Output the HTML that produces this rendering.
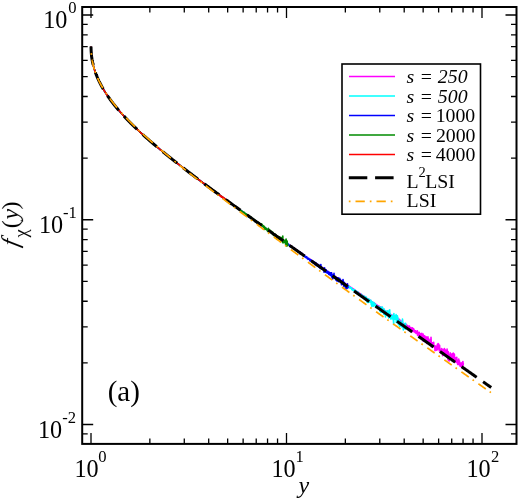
<!DOCTYPE html>
<html><head><meta charset="utf-8"><title>f_chi(y)</title>
<style>
html,body{margin:0;padding:0;background:#fff;}
body{width:519px;height:500px;overflow:hidden;}
svg{display:block;}
text{font-family:"Liberation Serif",serif;fill:#000;}
.tl{font-size:24.2px;}
.sup{font-size:16.6px;}
.lg{font-size:19.8px;}
.it{font-style:italic;}
</style></head><body>
<svg width="519" height="500" viewBox="0 0 519 500">
<rect x="0" y="0" width="519" height="500" fill="#fff"/>
<g id="curves">
<path d="M91.02,46.62 L91.02,46.65 L91.02,46.75 L91.02,46.92 L91.03,47.16 L91.03,47.44 L91.04,47.77 L91.05,48.12 L91.06,48.50 L91.07,48.88 L91.08,49.28 L91.10,49.68 L91.12,50.08 L91.13,50.48 L91.15,50.89 L91.18,51.30 L91.20,51.71 L91.23,52.11 L91.25,52.52 L91.28,52.92 L91.32,53.33 L91.35,53.73 L91.38,54.14 L91.42,54.54 L91.46,54.94 L91.50,55.34 L91.55,55.74 L91.59,56.14 L91.64,56.54 L91.69,56.93 L91.74,57.33 L91.79,57.73 L91.85,58.12 L91.91,58.52 L91.97,58.91 L92.03,59.31 L92.10,59.70 L92.16,60.10 L92.23,60.49 L92.30,60.89 L92.38,61.28 L92.45,61.67 L92.53,62.07 L92.61,62.46 L92.69,62.85 L92.78,63.25 L92.87,63.64 L92.96,64.04 L93.05,64.43 L93.14,64.82 L93.24,65.22 L93.34,65.61 L93.44,66.01 L93.54,66.40 L93.65,66.80 L93.76,67.19 L93.87,67.59 L93.98,67.98 L94.09,68.38 L94.21,68.77 L94.33,69.17 L94.45,69.57 L94.58,69.96 L94.71,70.36 L94.84,70.76 L94.97,71.16 L95.10,71.56 L95.24,71.96 L95.38,72.36 L95.52,72.76 L95.67,73.16 L95.82,73.56 L95.97,73.96 L96.12,74.36 L96.27,74.76 L96.43,75.16 L96.59,75.57 L96.75,75.97 L96.92,76.38 L97.09,76.78 L97.26,77.18 L97.43,77.59 L97.61,78.00 L97.78,78.40 L97.96,78.81 L98.15,79.22 L98.33,79.62 L98.52,80.03 L98.71,80.44 L98.91,80.85 L99.10,81.26 L99.30,81.67 L99.50,82.08 L99.71,82.49 L99.91,82.91 L100.12,83.32 L100.34,83.73 L100.55,84.15 L100.77,84.56 L100.99,84.97 L101.21,85.39 L101.44,85.81 L101.66,86.22 L101.90,86.64 L102.13,87.06 L102.37,87.47 L102.60,87.89 L102.85,88.31 L103.09,88.73 L103.34,89.15 L103.59,89.57 L103.84,89.99 L104.10,90.42 L104.36,90.84 L104.62,91.26 L104.88,91.68 L105.15,92.11 L105.42,92.53 L105.69,92.96 L105.96,93.38 L106.24,93.81 L106.52,94.24 L106.80,94.67 L107.09,95.09 L107.38,95.52 L107.67,95.95 L107.97,96.38 L108.26,96.81 L108.56,97.24 L108.87,97.67 L109.17,98.11 L109.48,98.54 L109.79,98.97 L110.11,99.41 L110.42,99.84 L110.74,100.27 L111.07,100.71 L111.39,101.15 L111.72,101.58 L112.05,102.02 L112.39,102.46 L112.72,102.90 L113.06,103.34 L113.41,103.78 L113.75,104.22 L114.10,104.66 L114.45,105.10 L114.81,105.54 L115.16,105.99 L115.52,106.43 L115.89,106.87 L116.25,107.32 L116.62,107.76 L116.99,108.21 L117.37,108.66 L117.75,109.10 L118.13,109.55 L118.51,110.00 L118.90,110.45 L119.29,110.90 L119.68,111.35 L120.08,111.80 L120.48,112.26 L120.88,112.71 L121.28,113.16 L121.69,113.62 L122.10,114.07 L122.51,114.53 L122.93,114.98 L123.35,115.44 L123.77,115.90 L124.20,116.36 L124.62,116.82 L125.06,117.28 L125.49,117.74 L125.93,118.20 L126.37,118.66 L126.81,119.13 L127.26,119.59 L127.71,120.05 L128.16,120.52 L128.61,120.99 L129.07,121.45 L129.53,121.92 L130.00,122.39 L130.47,122.86 L130.94,123.33 L131.41,123.80 L131.89,124.27 L132.37,124.75 L132.85,125.22 L133.34,125.69 L133.83,126.17 L134.32,126.65 L134.81,127.12 L135.31,127.60 L135.81,128.08 L136.32,128.56 L136.82,129.04 L137.33,129.52 L137.85,130.01 L138.36,130.49 L138.88,130.98 L139.41,131.46 L139.93,131.95 L140.46,132.43 L140.99,132.92 L141.53,133.41 L142.07,133.90 L142.61,134.40 L143.15,134.89 L143.70,135.38 L144.25,135.88 L144.81,136.37 L145.36,136.87 L145.92,137.37 L146.49,137.87 L147.05,138.37 L147.62,138.87 L148.20,139.37 L148.77,139.87 L149.35,140.38 L149.93,140.88 L150.52,141.39 L151.11,141.90 L151.70,142.40 L152.29,142.91 L152.89,143.43 L153.49,143.94 L154.10,144.45 L154.70,144.97 L155.32,145.48 L155.93,146.00 L156.55,146.52 L157.17,147.04 L157.79,147.56 L158.42,148.08 L159.05,148.61 L159.68,149.13 L160.32,149.66 L160.96,150.18 L161.60,150.71 L162.24,151.24 L162.89,151.77 L163.55,152.31 L164.20,152.84 L164.86,153.38 L165.52,153.91 L166.19,154.45 L166.86,154.99 L167.53,155.53 L168.20,156.07 L168.88,156.62 L169.56,157.16 L170.25,157.71 L170.93,158.26 L171.63,158.80 L172.32,159.36 L173.02,159.91 L173.72,160.46 L174.42,161.02 L175.13,161.57 L175.84,162.13 L176.55,162.69 L177.27,163.25 L177.99,163.82 L178.72,164.38 L179.44,164.95 L180.17,165.51 L180.91,166.08 L181.64,166.65 L182.38,167.23 L183.13,167.80 L183.87,168.37 L184.62,168.95 L185.38,169.53 L186.13,170.11 L186.89,170.69 L187.66,171.28 L188.42,171.86 L189.19,172.45 L189.96,173.04 L190.74,173.63 L191.52,174.22 L192.30,174.81 L193.09,175.41 L193.88,176.01 L194.67,176.60 L195.47,177.20 L196.27,177.81 L197.07,178.41 L197.88,179.02 L198.69,179.62 L199.50,180.23 L200.32,180.84 L201.13,181.46 L201.96,182.07 L202.78,182.69 L203.61,183.31 L204.45,183.93 L205.28,184.55 L206.12,185.17 L206.97,185.80 L207.81,186.43 L208.66,187.06 L209.51,187.69 L210.37,188.32 L211.23,188.96 L212.09,189.59 L212.96,190.23 L213.83,190.87 L214.70,191.52 L215.58,192.16 L216.46,192.81 L217.34,193.46 L218.23,194.11 L219.12,194.76 L220.01,195.41 L220.91,196.07 L221.81,196.73 L222.71,197.39 L223.62,198.05 L224.53,198.72 L225.45,199.38 L226.36,200.05 L227.28,200.72 L228.21,201.39 L229.14,202.07 L230.07,202.74 L231.00,203.42 L231.94,204.10 L232.88,204.79 L233.82,205.47 L234.77,206.16 L235.72,206.85 L236.68,207.54 L237.64,208.23 L238.60,208.92 L239.56,209.62 L240.53,210.32 L241.50,211.02 L242.48,211.72 L243.46,212.42 L244.44,213.13 L245.43,213.83 L246.42,214.54 L247.41,215.25 L248.40,215.97 L249.40,216.68 L250.41,217.40 L251.41,218.12 L252.42,218.84 L253.44,219.56 L254.45,220.28 L255.47,221.01 L256.50,221.73 L257.53,222.46 L258.56,223.20 L259.59,223.93 L260.63,224.66 L261.67,225.40 L262.71,226.14 L263.76,226.88 L264.81,227.63 L265.87,228.37 L266.93,229.12 L267.99,229.87 L269.05,230.62 L270.12,231.37 L271.20,232.13 L272.27,232.88 L273.35,233.64 L274.43,234.40 L275.52,235.17 L276.61,235.93 L277.70,236.70 L278.80,237.47 L279.90,238.24 L281.01,239.01 L282.11,239.79 L283.22,240.56 L284.34,241.34 L285.46,242.12 L286.58,242.91 L287.70,243.69 L288.83,244.48 L289.96,245.27 L291.10,246.06 L292.24,246.85 L293.38,247.65 L294.53,248.45 L295.68,249.25 L296.83,250.05 L297.99,250.85 L299.15,251.66 L300.31,252.47 L301.48,253.28 L302.65,254.09 L303.82,254.91 L305.00,255.72 L306.18,256.54 L307.37,257.36 L308.56,258.19 L309.75,259.01 L310.95,259.84 L312.15,260.67 L313.35,261.50 L314.56,262.34 L315.77,263.17 L316.98,264.01 L318.20,264.85 L319.42,265.70 L320.64,266.54 L321.87,267.39 L323.10,268.24 L324.34,269.09 L325.57,269.95 L326.82,270.80 L328.06,271.66 L329.31,272.52 L330.56,273.39 L331.82,274.25 L333.08,275.12 L334.35,275.99 L335.61,276.86 L336.88,277.74 L338.16,278.62 L339.44,279.49 L340.72,280.38 L342.00,281.26 L343.29,282.15 L344.58,283.04 L345.88,283.93 L346.10,284.08 L346.32,284.23 L346.54,284.38 L346.76,284.54 L346.98,284.69 L347.20,284.83 L347.42,284.99 L347.64,285.13 L347.86,285.29 L348.08,285.45 L348.30,285.58 L348.52,285.74 L348.74,285.90 L348.96,286.06 L349.18,286.22 L349.40,286.34 L349.62,286.49 L349.84,286.66 L350.06,286.80 L350.28,286.95 L350.50,287.13 L350.72,287.30 L350.94,287.42 L351.16,287.55 L351.38,287.73 L351.60,287.81 L351.82,288.01 L352.04,288.13 L352.26,288.40 L352.48,288.49 L352.70,288.62 L352.92,288.76 L353.14,288.82 L353.36,289.10 L353.58,289.30 L353.80,289.34 L354.02,289.56 L354.24,289.71 L354.46,289.75 L354.68,290.03 L354.90,290.20 L355.12,290.30 L355.34,290.43 L355.56,290.63 L355.78,290.64 L356.00,290.89 L356.22,291.11 L356.44,291.11 L356.66,291.41 L356.88,291.46 L357.10,291.49 L357.32,291.79 L357.54,291.87 L357.76,292.12 L357.98,292.15 L358.20,292.49 L358.42,292.49 L358.64,292.73 L358.86,292.80 L359.08,292.97 L359.30,293.27 L359.52,293.33 L359.74,293.42 L359.96,293.48 L360.18,293.88 L360.40,293.99 L360.62,294.03 L360.84,294.24 L361.06,294.25 L361.28,294.40 L361.50,294.57 L361.72,294.86 L361.94,295.01 L362.16,295.03 L362.38,295.37 L362.60,295.53 L362.82,295.60 L363.04,295.87 L363.26,295.84 L363.48,296.01 L363.70,296.25 L363.92,296.33 L364.14,296.60 L364.36,296.45 L364.58,297.00 L364.80,296.82 L365.02,297.06 L365.24,297.02 L365.46,297.49 L365.68,297.75 L365.90,297.87 L366.12,297.99 L366.34,297.73 L366.56,298.01 L366.78,298.22 L367.00,298.28 L367.22,298.81 L367.44,298.79 L367.66,298.90 L367.88,299.15 L368.10,299.02 L368.32,299.18 L368.54,299.33 L368.76,299.76 L368.98,299.88 L369.20,300.08 L369.42,300.34 L369.64,299.97 L369.86,300.29 L370.08,300.60 L370.30,300.42 L370.52,300.75 L370.74,301.25 L370.96,301.43 L371.18,301.58 L371.40,301.48 L371.62,301.57 L371.84,302.04 L372.06,301.83 L372.28,302.16 L372.50,302.57 L372.72,302.29 L372.94,302.37 L373.16,302.68 L373.38,303.00 L373.60,303.12 L373.82,303.18 L374.04,303.44 L374.26,302.99 L374.48,303.35 L374.70,303.79 L374.92,303.62 L375.14,303.65 L375.36,303.84 L375.58,304.07 L375.80,304.44 L376.02,304.34 L376.24,304.87 L376.46,305.49 L376.68,305.06 L376.90,305.67 L377.12,305.50 L377.34,305.19 L377.56,305.62 L377.78,305.53 L378.00,306.27 L378.22,305.77 L378.44,306.77 L378.66,306.67 L378.88,305.90 L379.10,307.05 L379.32,307.48 L379.54,306.78 L379.76,307.59 L379.98,306.70 L380.20,307.62 L380.42,307.04 L380.64,308.01 L380.86,307.28 L381.08,307.10 L381.30,308.44 L381.52,309.35 L381.74,308.34 L381.96,309.08 L382.18,308.93 L382.40,308.90 L382.62,309.45 L382.84,310.04 L383.06,308.96 L383.28,309.89 L383.50,309.95 L383.72,309.32 L383.94,310.82 L384.16,311.13 L384.38,309.97 L384.60,311.35 L384.82,310.73 L385.04,310.78 L385.26,311.71 L385.48,311.27 L385.70,311.46 L385.92,312.19 L386.14,312.24 L386.36,312.20 L386.58,311.22 L386.80,311.28 L387.02,312.79 L387.24,311.90 L387.46,312.60 L387.68,312.12 L387.90,312.73 L388.12,312.30 L388.34,313.99 L388.56,312.73 L388.78,313.36 L389.00,313.48 L389.22,314.40 L389.44,313.10 L389.66,314.02 L389.88,314.07 L390.10,314.64 L390.32,314.76 L390.54,314.37 L390.76,314.93 L390.98,314.72 L391.20,315.37 L391.42,315.19 L391.64,315.00 L391.86,315.53 L392.08,315.93 L392.30,317.25 L392.52,315.70 L392.74,316.35 L392.96,317.23 L393.18,315.13 L393.40,315.49 L393.62,315.99 L393.84,316.84 L394.06,318.67 L394.28,317.48 L394.50,318.18 L394.72,317.37 L394.94,316.00 L395.16,316.24 L395.38,318.68 L395.60,318.26 L395.82,317.37 L396.04,319.22 L396.26,317.49 L396.48,319.55 L396.70,319.93 L396.92,318.48 L397.14,318.38 L397.36,319.96 L397.58,318.68 L397.80,320.29 L398.02,318.89 L398.24,320.56 L398.46,320.17 L398.68,319.92 L398.90,319.71 L399.12,320.74 L399.34,319.22 L399.56,320.64 L399.78,320.69 L400.00,321.71 L400.22,320.30 L400.44,322.86 L400.66,321.36 L400.88,320.83 L401.10,323.08 L401.32,323.47 L401.54,322.06 L401.76,321.62 L401.98,322.54 L402.20,322.08 L402.42,322.56 L402.64,324.35 L402.86,323.48 L403.08,323.41 L403.30,323.75 L403.52,323.54 L403.74,324.50 L403.96,324.70 L404.18,323.71 L404.40,324.29 L404.62,326.60 L404.84,324.90 L405.06,324.48 L405.28,326.75 L405.50,324.96 L405.72,324.05 L405.94,325.91 L406.16,324.53 L406.38,325.08 L406.60,326.04 L406.82,325.74 L407.04,325.25 L407.26,325.62 L407.48,325.72 L407.70,327.67 L407.92,325.89 L408.14,326.19 L408.36,329.05 L408.58,326.50 L408.80,328.81 L409.02,328.78 L409.24,327.38 L409.46,326.16 L409.68,328.33 L409.90,328.73 L410.12,329.21 L410.34,328.38 L410.56,329.79 L410.78,330.16 L411.00,327.57 L411.22,330.52 L411.44,329.26 L411.66,328.56 L411.88,329.00 L412.10,331.69 L412.32,330.82 L412.54,327.72 L412.76,330.07 L412.98,329.96 L413.20,330.07 L413.42,329.81 L413.64,328.82 L413.86,331.78 L414.08,329.73 L414.30,330.58 L414.52,330.44 L414.74,330.43 L414.96,332.43 L415.18,332.13 L415.40,330.94 L415.62,330.74 L415.84,331.50 L416.06,333.51 L416.28,332.57 L416.50,332.86 L416.72,332.28 L416.94,332.52 L417.16,333.30 L417.38,330.69 L417.60,335.50 L417.82,332.40 L418.04,332.85 L418.26,335.62 L418.48,334.24 L418.70,334.14 L418.92,333.42 L419.14,332.19 L419.36,334.80 L419.58,336.39 L419.80,333.56 L420.02,336.96 L420.24,333.52 L420.46,334.23 L420.68,336.19 L420.90,335.61 L421.12,336.78 L421.34,334.80 L421.56,334.52 L421.78,333.40 L422.00,334.54 L422.22,334.88 L422.44,334.48 L422.66,337.30 L422.88,335.95 L423.10,334.03 L423.32,341.18 L423.54,336.12 L423.76,335.60 L423.98,339.72 L424.20,339.76 L424.42,336.19 L424.64,335.81 L424.86,336.72 L425.08,340.35 L425.30,338.14 L425.52,337.47 L425.74,338.91 L425.96,341.13 L426.18,336.92 L426.40,338.77 L426.62,337.21 L426.84,343.45 L427.06,343.01 L427.28,341.68 L427.50,339.95 L427.72,341.49 L427.94,336.79 L428.16,341.13 L428.38,338.41 L428.60,338.57 L428.82,339.83 L429.04,340.62 L429.26,342.45 L429.48,342.84 L429.70,342.19 L429.92,340.12 L430.14,343.27 L430.36,341.94 L430.58,344.54 L430.80,340.74 L431.02,337.38 L431.24,341.87 L431.46,347.06 L431.68,343.99 L431.90,342.86 L432.12,345.11 L432.34,344.53 L432.56,344.61 L432.78,342.83 L433.00,344.15 L433.22,344.56 L433.44,343.01 L433.66,342.20 L433.88,344.90 L434.10,346.75 L434.32,346.25 L434.54,346.09 L434.76,346.27 L434.98,350.77 L435.20,346.08 L435.42,347.88 L435.64,349.99 L435.86,346.10 L436.08,346.71 L436.30,348.54 L436.52,350.10 L436.74,347.28 L436.96,347.55 L437.18,347.11 L437.40,344.40 L437.62,349.70 L437.84,346.81 L438.06,343.67 L438.28,347.35 L438.50,343.92 L438.72,345.69 L438.94,348.18 L439.16,346.18 L439.38,350.91 L439.60,345.23 L439.82,349.37 L440.04,350.20 L440.26,352.43 L440.48,351.35 L440.70,349.92 L440.92,349.72 L441.14,349.55 L441.36,352.46 L441.58,348.48 L441.80,351.35 L442.02,350.09 L442.24,351.01 L442.46,350.01 L442.68,355.68 L442.90,349.41 L443.12,351.66 L443.34,351.86 L443.56,352.78 L443.78,352.57 L444.00,352.67 L444.22,354.10 L444.44,348.53 L444.66,352.17 L444.88,349.47 L445.10,352.99 L445.32,349.89 L445.54,350.56 L445.76,352.78 L445.98,356.28 L446.20,354.55 L446.42,354.06 L446.64,356.76 L446.86,351.51 L447.08,349.03 L447.30,353.02 L447.52,353.51 L447.74,357.14 L447.96,359.38 L448.18,351.55 L448.40,360.46 L448.62,358.52 L448.84,357.00 L449.06,356.07 L449.28,360.96 L449.50,355.72 L449.72,354.60 L449.94,356.16 L450.16,352.85 L450.38,357.24 L450.60,356.05 L450.82,357.22 L451.04,357.44 L451.26,354.33 L451.48,359.95 L451.70,354.74 L451.92,359.27 L452.14,353.72 L452.36,358.39 L452.58,355.81 L452.80,357.94 L453.02,356.50 L453.24,353.13 L453.46,355.74 L453.68,358.62 L453.90,360.05 L454.12,355.39 L454.34,354.04 L454.56,357.07 L454.78,358.75 L455.00,357.93 L455.22,357.68 L455.44,361.65 L455.66,362.07 L455.88,361.71 L456.10,358.00 L456.32,360.49 L456.54,360.02 L456.76,357.34 L456.98,362.81 L457.20,361.13 L457.42,359.97 L457.64,364.50 L457.86,363.15 L458.08,363.52 L458.30,364.46 L458.52,363.51 L458.74,359.10 L458.96,361.27 L459.18,364.63 L459.40,360.70 L459.62,362.71 L459.84,363.70 L460.06,366.25 L460.28,366.08 L460.50,365.31 L460.72,362.97 L460.94,365.66 L461.16,364.92 L461.38,363.49 L461.60,367.14 L461.82,365.31 L462.04,362.58 L462.26,367.39 L462.48,364.04 L462.70,366.15 L462.92,361.43 L463.14,365.05 L463.36,363.07 L463.58,363.16" stroke="#ff00ff" stroke-width="1.6" fill="none" stroke-linejoin="round"/>
<path d="M91.02,46.62 L91.02,46.65 L91.02,46.75 L91.02,46.93 L91.03,47.17 L91.03,47.47 L91.04,47.81 L91.05,48.17 L91.06,48.55 L91.07,48.94 L91.09,49.34 L91.10,49.75 L91.12,50.16 L91.14,50.57 L91.16,50.99 L91.18,51.40 L91.21,51.82 L91.23,52.23 L91.26,52.64 L91.29,53.05 L91.33,53.46 L91.36,53.87 L91.40,54.28 L91.44,54.69 L91.48,55.10 L91.52,55.51 L91.57,55.91 L91.61,56.32 L91.66,56.72 L91.71,57.13 L91.77,57.53 L91.82,57.93 L91.88,58.34 L91.94,58.74 L92.00,59.14 L92.07,59.54 L92.14,59.94 L92.21,60.34 L92.28,60.74 L92.35,61.14 L92.43,61.54 L92.51,61.94 L92.59,62.34 L92.67,62.74 L92.76,63.14 L92.84,63.55 L92.93,63.95 L93.03,64.35 L93.12,64.75 L93.22,65.15 L93.32,65.55 L93.42,65.95 L93.53,66.35 L93.64,66.75 L93.74,67.15 L93.86,67.56 L93.97,67.96 L94.09,68.36 L94.21,68.76 L94.33,69.17 L94.46,69.57 L94.58,69.97 L94.71,70.38 L94.85,70.78 L94.98,71.19 L95.12,71.59 L95.26,72.00 L95.40,72.41 L95.54,72.81 L95.69,73.22 L95.84,73.63 L96.00,74.04 L96.15,74.44 L96.31,74.85 L96.47,75.26 L96.63,75.67 L96.80,76.08 L96.97,76.49 L97.14,76.90 L97.31,77.32 L97.49,77.73 L97.67,78.14 L97.85,78.56 L98.04,78.97 L98.22,79.38 L98.41,79.80 L98.61,80.21 L98.80,80.63 L99.00,81.05 L99.20,81.46 L99.40,81.88 L99.61,82.30 L99.82,82.72 L100.03,83.14 L100.25,83.56 L100.46,83.98 L100.68,84.40 L100.91,84.82 L101.13,85.24 L101.36,85.67 L101.59,86.09 L101.83,86.51 L102.06,86.94 L102.30,87.36 L102.54,87.79 L102.79,88.21 L103.04,88.64 L103.29,89.07 L103.54,89.49 L103.80,89.92 L104.06,90.35 L104.32,90.78 L104.58,91.21 L104.85,91.64 L105.12,92.07 L105.40,92.50 L105.67,92.94 L105.95,93.37 L106.23,93.80 L106.52,94.24 L106.81,94.67 L107.10,95.11 L107.39,95.54 L107.69,95.98 L107.99,96.42 L108.29,96.85 L108.60,97.29 L108.91,97.73 L109.22,98.17 L109.53,98.61 L109.85,99.05 L110.17,99.49 L110.49,99.93 L110.82,100.38 L111.15,100.82 L111.48,101.26 L111.81,101.71 L112.15,102.15 L112.49,102.60 L112.84,103.04 L113.18,103.49 L113.53,103.94 L113.88,104.39 L114.24,104.83 L114.60,105.28 L114.96,105.73 L115.33,106.19 L115.69,106.64 L116.06,107.09 L116.44,107.54 L116.81,107.99 L117.19,108.45 L117.58,108.90 L117.96,109.36 L118.35,109.81 L118.74,110.27 L119.14,110.73 L119.54,111.19 L119.94,111.65 L120.34,112.11 L120.75,112.57 L121.16,113.03 L121.57,113.49 L121.99,113.95 L122.41,114.41 L122.83,114.88 L123.26,115.34 L123.69,115.81 L124.12,116.28 L124.55,116.74 L124.99,117.21 L125.43,117.68 L125.88,118.15 L126.33,118.62 L126.78,119.09 L127.23,119.56 L127.69,120.03 L128.15,120.51 L128.61,120.98 L129.08,121.46 L129.54,121.93 L130.02,122.41 L130.49,122.89 L130.97,123.36 L131.45,123.84 L131.94,124.32 L132.43,124.80 L132.92,125.29 L133.41,125.77 L133.91,126.25 L134.41,126.74 L134.91,127.22 L135.42,127.71 L135.93,128.20 L136.45,128.68 L136.96,129.17 L137.48,129.66 L138.01,130.15 L138.53,130.65 L139.06,131.14 L139.59,131.63 L140.13,132.13 L140.67,132.63 L141.21,133.12 L141.76,133.62 L142.31,134.12 L142.86,134.62 L143.41,135.12 L143.97,135.62 L144.53,136.13 L145.10,136.63 L145.67,137.14 L146.24,137.64 L146.81,138.15 L147.39,138.66 L147.97,139.17 L148.56,139.68 L149.14,140.20 L149.73,140.71 L150.33,141.22 L150.93,141.74 L151.53,142.26 L152.13,142.77 L152.74,143.29 L153.35,143.82 L153.96,144.34 L154.58,144.86 L155.20,145.38 L155.82,145.91 L156.45,146.44 L157.08,146.97 L157.71,147.50 L158.35,148.03 L158.99,148.56 L159.63,149.09 L160.28,149.63 L160.93,150.16 L161.58,150.70 L162.24,151.24 L162.90,151.78 L163.56,152.32 L164.23,152.86 L164.90,153.41 L165.57,153.95 L166.25,154.50 L166.93,155.05 L167.61,155.60 L168.30,156.15 L168.99,156.70 L169.68,157.26 L170.38,157.81 L171.08,158.37 L171.78,158.93 L172.49,159.49 L173.20,160.05 L173.91,160.62 L174.63,161.18 L175.35,161.75 L176.08,162.32 L176.80,162.89 L177.53,163.46 L178.27,164.03 L179.00,164.60 L179.74,165.18 L180.49,165.76 L181.24,166.34 L181.99,166.92 L182.74,167.50 L183.50,168.09 L184.26,168.67 L185.02,169.26 L185.79,169.85 L186.56,170.44 L187.34,171.03 L188.11,171.63 L188.89,172.22 L189.68,172.82 L190.47,173.42 L191.26,174.02 L192.05,174.62 L192.85,175.23 L193.65,175.84 L194.46,176.44 L195.27,177.05 L196.08,177.67 L196.90,178.28 L197.72,178.90 L198.54,179.51 L199.36,180.13 L200.19,180.75 L201.03,181.38 L201.86,182.00 L202.70,182.63 L203.54,183.26 L204.39,183.89 L205.24,184.52 L206.10,185.15 L206.95,185.79 L207.81,186.43 L208.68,187.07 L209.54,187.71 L210.41,188.35 L211.29,189.00 L212.17,189.65 L213.05,190.30 L213.93,190.95 L214.82,191.60 L215.71,192.26 L216.61,192.92 L217.51,193.58 L218.41,194.24 L219.32,194.90 L220.23,195.57 L221.14,196.24 L222.05,196.91 L222.97,197.58 L223.90,198.25 L224.82,198.93 L225.75,199.61 L226.69,200.29 L227.63,200.97 L228.57,201.65 L229.51,202.34 L230.46,203.03 L231.41,203.72 L232.37,204.41 L233.32,205.11 L234.29,205.81 L235.25,206.50 L236.22,207.21 L237.19,207.91 L238.17,208.62 L239.15,209.32 L240.13,210.03 L241.12,210.75 L242.11,211.46 L243.10,212.18 L244.10,212.90 L245.10,213.62 L246.11,214.34 L247.12,215.07 L248.13,215.79 L249.14,216.52 L250.16,217.26 L251.19,217.99 L252.21,218.73 L253.24,219.47 L254.27,220.21 L255.31,220.95 L256.35,221.69 L257.40,222.44 L258.44,223.19 L259.49,223.94 L260.55,224.69 L261.61,225.45 L262.67,226.21 L263.73,226.97 L264.80,227.73 L265.88,228.49 L266.95,229.26 L268.03,230.03 L269.12,230.80 L270.20,231.57 L271.29,232.34 L272.39,233.12 L273.49,233.90 L274.59,234.68 L275.69,235.46 L276.80,236.25 L277.92,237.04 L279.03,237.83 L280.15,238.62 L281.27,239.41 L282.40,240.21 L283.53,241.01 L284.67,241.81 L285.80,242.61 L286.95,243.42 L288.09,244.23 L289.24,245.04 L290.39,245.85 L291.55,246.66 L292.71,247.48 L293.87,248.30 L295.04,249.12 L296.21,249.95 L297.38,250.77 L298.56,251.60 L299.74,252.43 L300.93,253.27 L302.12,254.10 L303.31,254.94 L304.51,255.78 L305.71,256.62 L306.91,257.47 L308.12,258.31 L309.33,259.16 L310.54,260.02 L311.76,260.87 L312.98,261.73 L314.21,262.59 L315.44,263.45 L316.67,264.31 L317.91,265.18 L319.15,266.05 L320.39,266.92 L321.64,267.79 L322.89,268.67 L324.15,269.55 L324.37,269.70 L324.59,269.85 L324.81,270.01 L325.03,270.17 L325.25,270.32 L325.47,270.47 L325.69,270.62 L325.91,270.77 L326.13,270.93 L326.35,271.11 L326.57,271.22 L326.79,271.40 L327.01,271.56 L327.23,271.69 L327.45,271.85 L327.67,271.97 L327.89,272.14 L328.11,272.32 L328.33,272.49 L328.55,272.59 L328.77,272.91 L328.99,272.91 L329.21,273.10 L329.43,273.23 L329.65,273.38 L329.87,273.62 L330.09,273.68 L330.31,273.94 L330.53,274.09 L330.75,274.10 L330.97,274.39 L331.19,274.43 L331.41,274.84 L331.63,274.75 L331.85,274.86 L332.07,274.93 L332.29,275.13 L332.51,275.35 L332.73,275.46 L332.95,275.59 L333.17,275.79 L333.39,275.99 L333.61,276.33 L333.83,276.13 L334.05,276.41 L334.27,276.52 L334.49,276.60 L334.71,276.78 L334.93,276.97 L335.15,277.34 L335.37,277.37 L335.59,277.48 L335.81,277.80 L336.03,277.90 L336.25,277.98 L336.47,278.23 L336.69,278.19 L336.91,278.58 L337.13,278.71 L337.35,278.71 L337.57,278.72 L337.79,279.37 L338.01,279.26 L338.23,279.97 L338.45,279.43 L338.67,279.88 L338.89,279.77 L339.11,280.07 L339.33,280.34 L339.55,280.15 L339.77,280.46 L339.99,280.67 L340.21,280.81 L340.43,281.08 L340.65,281.33 L340.87,281.45 L341.09,281.46 L341.31,281.47 L341.53,281.42 L341.75,281.67 L341.97,281.88 L342.19,282.35 L342.41,282.22 L342.63,282.13 L342.85,282.81 L343.07,282.55 L343.29,282.71 L343.51,283.02 L343.73,283.39 L343.95,282.66 L344.17,283.20 L344.39,283.76 L344.61,283.74 L344.83,283.73 L345.05,283.99 L345.27,284.79 L345.49,284.32 L345.71,284.88 L345.93,285.06 L346.15,284.78 L346.37,285.25 L346.59,285.08 L346.81,285.17 L347.03,285.13 L347.25,286.04 L347.47,285.71 L347.69,285.80 L347.91,285.72 L348.13,287.06 L348.35,286.78 L348.57,286.57 L348.79,286.49 L349.01,286.28 L349.23,287.22 L349.45,287.37 L349.67,286.77 L349.89,288.08 L350.11,288.06 L350.33,287.41 L350.55,287.75 L350.77,287.96 L350.99,288.40 L351.21,288.40 L351.43,287.82 L351.65,289.52 L351.87,289.10 L352.09,289.74 L352.31,289.90 L352.53,289.29 L352.75,289.73 L352.97,290.10 L353.19,290.28 L353.41,289.92 L353.63,289.82 L353.85,290.34 L354.07,290.02 L354.29,290.31 L354.51,289.60 L354.73,290.99 L354.95,290.48 L355.17,290.91 L355.39,291.37 L355.61,291.74 L355.83,292.88 L356.05,291.99 L356.27,291.12 L356.49,292.25 L356.71,291.93 L356.93,292.74 L357.15,292.17 L357.37,292.31 L357.59,292.59 L357.81,292.66 L358.03,291.98 L358.25,292.93 L358.47,293.54 L358.69,294.56 L358.91,293.65 L359.13,293.74 L359.35,294.59 L359.57,294.72 L359.79,295.67 L360.01,295.07 L360.23,294.77 L360.45,295.97 L360.67,296.28 L360.89,294.87 L361.11,295.52 L361.33,294.21 L361.55,295.41 L361.77,295.14 L361.99,295.84 L362.21,295.77 L362.43,296.18 L362.65,296.39 L362.87,297.05 L363.09,296.98 L363.31,296.45 L363.53,295.96 L363.75,298.34 L363.97,298.67 L364.19,297.14 L364.41,298.22 L364.63,296.46 L364.85,296.57 L365.07,297.92 L365.29,299.71 L365.51,297.48 L365.73,297.83 L365.95,300.34 L366.17,297.09 L366.39,299.73 L366.61,299.73 L366.83,299.19 L367.05,299.74 L367.27,302.38 L367.49,298.70 L367.71,299.69 L367.93,299.92 L368.15,299.60 L368.37,299.05 L368.59,302.34 L368.81,301.02 L369.03,299.02 L369.25,300.32 L369.47,301.70 L369.69,301.85 L369.91,299.93 L370.13,301.60 L370.35,302.16 L370.57,302.47 L370.79,302.63 L371.01,300.19 L371.23,304.66 L371.45,302.88 L371.67,304.95 L371.89,306.40 L372.11,302.90 L372.33,301.73 L372.55,304.47 L372.77,303.33 L372.99,303.14 L373.21,302.55 L373.43,306.17 L373.65,303.60 L373.87,302.51 L374.09,303.90 L374.31,303.11 L374.53,305.00 L374.75,304.38 L374.97,303.67 L375.19,306.07 L375.41,304.52 L375.63,306.56 L375.85,307.46 L376.07,305.36 L376.29,305.11 L376.51,306.46 L376.73,307.60 L376.95,306.48 L377.17,306.84 L377.39,306.75 L377.61,307.40 L377.83,308.03 L378.05,306.20 L378.27,306.68 L378.49,307.63 L378.71,306.70 L378.93,308.08 L379.15,308.85 L379.37,308.14 L379.59,307.39 L379.81,307.26 L380.03,311.43 L380.25,310.20 L380.47,307.14 L380.69,307.74 L380.91,312.32 L381.13,311.90 L381.35,309.78 L381.57,311.65 L381.79,307.37 L382.01,310.03 L382.23,311.44 L382.45,307.15 L382.67,309.14 L382.89,312.01 L383.11,312.78 L383.33,309.91 L383.55,311.62 L383.77,314.12 L383.99,310.73 L384.21,309.16 L384.43,311.61 L384.65,311.16 L384.87,314.43 L385.09,312.48 L385.31,310.84 L385.53,317.01 L385.75,311.70 L385.97,313.70 L386.19,314.26 L386.41,314.63 L386.63,313.60 L386.85,314.57 L387.07,313.44 L387.29,310.91 L387.51,313.44 L387.73,313.64 L387.95,313.83 L388.17,314.62 L388.39,313.22 L388.61,317.38 L388.83,318.06 L389.05,310.37 L389.27,315.14 L389.49,313.77 L389.71,309.88 L389.93,316.46 L390.15,314.40 L390.37,315.07 L390.59,314.62 L390.81,318.58 L391.03,319.09 L391.25,317.12 L391.47,318.21 L391.69,316.56 L391.91,317.29 L392.13,315.44 L392.35,317.36 L392.57,315.79 L392.79,318.45 L393.01,319.64 L393.23,318.61 L393.45,320.77 L393.67,324.39 L393.89,313.51 L394.11,318.55 L394.33,317.36 L394.55,317.77 L394.77,315.85 L394.99,319.25 L395.21,318.69 L395.43,317.99 L395.65,319.01 L395.87,318.39 L396.09,314.52 L396.31,322.54 L396.53,319.52 L396.75,318.18 L396.97,321.23 L397.19,319.15 L397.41,315.83 L397.63,323.03 L397.85,317.28 L398.07,320.79 L398.29,321.73 L398.51,324.71 L398.73,324.50 L398.95,322.29 L399.17,320.31 L399.39,321.27 L399.61,324.88 L399.83,326.64 L400.05,323.94 L400.27,321.36 L400.49,325.36 L400.71,322.29 L400.93,322.37 L401.15,322.82 L401.37,324.97 L401.59,324.40 L401.81,326.21 L402.03,327.06 L402.25,325.41 L402.47,319.02 L402.69,320.64 L402.91,325.06 L403.13,324.70 L403.35,329.97 L403.57,325.09 L403.79,324.97 L404.01,327.64 L404.23,328.07 L404.45,325.24 L404.67,327.02 L404.89,323.48 L405.11,324.08 L405.33,329.24 L405.55,323.32 L405.77,328.83 L405.99,328.42 L406.21,328.79" stroke="#00ffff" stroke-width="1.6" fill="none" stroke-linejoin="round"/>
<path d="M91.02,46.62 L91.02,46.65 L91.02,46.76 L91.02,46.95 L91.03,47.22 L91.04,47.53 L91.04,47.88 L91.05,48.26 L91.06,48.66 L91.08,49.07 L91.09,49.49 L91.11,49.92 L91.13,50.34 L91.15,50.77 L91.17,51.20 L91.20,51.63 L91.22,52.06 L91.25,52.49 L91.28,52.92 L91.32,53.34 L91.35,53.77 L91.39,54.19 L91.43,54.62 L91.47,55.04 L91.52,55.46 L91.56,55.88 L91.61,56.30 L91.66,56.72 L91.72,57.14 L91.77,57.56 L91.83,57.98 L91.89,58.39 L91.95,58.81 L92.02,59.23 L92.09,59.64 L92.16,60.06 L92.23,60.47 L92.30,60.89 L92.38,61.30 L92.46,61.72 L92.54,62.13 L92.63,62.55 L92.72,62.96 L92.81,63.38 L92.90,63.79 L93.00,64.21 L93.09,64.63 L93.19,65.04 L93.30,65.46 L93.40,65.87 L93.51,66.29 L93.62,66.70 L93.74,67.12 L93.85,67.54 L93.97,67.95 L94.09,68.37 L94.22,68.79 L94.34,69.21 L94.47,69.63 L94.61,70.05 L94.74,70.46 L94.88,70.88 L95.02,71.30 L95.16,71.73 L95.31,72.15 L95.46,72.57 L95.61,72.99 L95.76,73.41 L95.92,73.83 L96.08,74.26 L96.24,74.68 L96.41,75.11 L96.58,75.53 L96.75,75.96 L96.92,76.38 L97.10,76.81 L97.28,77.24 L97.46,77.66 L97.65,78.09 L97.84,78.52 L98.03,78.95 L98.22,79.38 L98.42,79.81 L98.62,80.24 L98.82,80.67 L99.03,81.10 L99.24,81.54 L99.45,81.97 L99.66,82.40 L99.88,82.84 L100.10,83.27 L100.32,83.71 L100.55,84.14 L100.78,84.58 L101.01,85.02 L101.25,85.46 L101.49,85.89 L101.73,86.33 L101.97,86.77 L102.22,87.21 L102.47,87.65 L102.72,88.10 L102.98,88.54 L103.24,88.98 L103.50,89.42 L103.77,89.87 L104.03,90.31 L104.31,90.76 L104.58,91.20 L104.86,91.65 L105.14,92.10 L105.42,92.55 L105.71,92.99 L106.00,93.44 L106.29,93.89 L106.59,94.34 L106.89,94.79 L107.19,95.24 L107.50,95.70 L107.81,96.15 L108.12,96.60 L108.43,97.06 L108.75,97.51 L109.07,97.97 L109.40,98.42 L109.72,98.88 L110.06,99.34 L110.39,99.79 L110.73,100.25 L111.07,100.71 L111.41,101.17 L111.76,101.63 L112.11,102.09 L112.46,102.56 L112.82,103.02 L113.18,103.48 L113.54,103.95 L113.90,104.41 L114.27,104.88 L114.65,105.34 L115.02,105.81 L115.40,106.28 L115.78,106.75 L116.17,107.21 L116.56,107.68 L116.95,108.15 L117.34,108.62 L117.74,109.10 L118.14,109.57 L118.55,110.04 L118.96,110.52 L119.37,110.99 L119.78,111.47 L120.20,111.94 L120.62,112.42 L121.05,112.90 L121.47,113.38 L121.90,113.86 L122.34,114.34 L122.78,114.82 L123.22,115.30 L123.66,115.78 L124.11,116.26 L124.56,116.75 L125.01,117.23 L125.47,117.72 L125.93,118.21 L126.40,118.69 L126.87,119.18 L127.34,119.67 L127.81,120.16 L128.29,120.65 L128.77,121.14 L129.25,121.64 L129.74,122.13 L130.23,122.63 L130.73,123.12 L131.23,123.62 L131.73,124.12 L132.23,124.61 L132.74,125.11 L133.25,125.61 L133.77,126.11 L134.29,126.62 L134.81,127.12 L135.33,127.62 L135.86,128.13 L136.39,128.64 L136.93,129.14 L137.47,129.65 L138.01,130.16 L138.56,130.67 L139.11,131.18 L139.66,131.69 L140.22,132.21 L140.77,132.72 L141.34,133.24 L141.90,133.76 L142.47,134.27 L143.05,134.79 L143.62,135.31 L144.21,135.83 L144.79,136.36 L145.38,136.88 L145.97,137.41 L146.56,137.93 L147.16,138.46 L147.76,138.99 L148.37,139.52 L148.97,140.05 L149.59,140.58 L150.20,141.11 L150.82,141.65 L151.44,142.18 L152.07,142.72 L152.70,143.26 L153.33,143.80 L153.97,144.34 L154.61,144.88 L155.25,145.43 L155.90,145.97 L156.55,146.52 L157.20,147.07 L157.86,147.62 L158.52,148.17 L159.19,148.72 L159.85,149.27 L160.53,149.83 L161.20,150.38 L161.88,150.94 L162.56,151.50 L163.25,152.06 L163.94,152.63 L164.63,153.19 L165.33,153.75 L166.03,154.32 L166.73,154.89 L167.44,155.46 L168.15,156.03 L168.87,156.60 L169.58,157.18 L170.31,157.76 L171.03,158.33 L171.76,158.91 L172.49,159.49 L173.23,160.08 L173.97,160.66 L174.71,161.25 L175.46,161.83 L176.21,162.42 L176.97,163.01 L177.72,163.61 L178.49,164.20 L179.25,164.80 L180.02,165.40 L180.79,166.00 L181.57,166.60 L182.35,167.20 L183.13,167.81 L183.92,168.41 L184.71,169.02 L185.51,169.63 L186.30,170.24 L187.11,170.86 L187.91,171.47 L188.72,172.09 L189.53,172.71 L190.35,173.33 L191.17,173.95 L192.00,174.58 L192.82,175.21 L193.65,175.84 L194.49,176.47 L195.33,177.10 L196.17,177.73 L197.02,178.37 L197.87,179.01 L198.72,179.65 L199.58,180.29 L200.44,180.94 L201.30,181.58 L202.17,182.23 L203.04,182.88 L203.92,183.54 L204.80,184.19 L205.68,184.85 L206.57,185.51 L207.46,186.17 L208.35,186.83 L209.25,187.49 L210.15,188.16 L211.06,188.83 L211.97,189.50 L212.88,190.18 L213.80,190.85 L214.72,191.53 L215.64,192.21 L216.57,192.89 L217.50,193.57 L218.44,194.26 L219.38,194.95 L220.32,195.64 L221.27,196.33 L222.22,197.03 L223.18,197.73 L224.13,198.42 L225.10,199.13 L226.06,199.83 L227.03,200.54 L228.00,201.24 L228.98,201.96 L229.96,202.67 L230.95,203.38 L231.94,204.10 L232.93,204.82 L233.92,205.54 L234.92,206.27 L235.93,206.99 L236.94,207.72 L237.95,208.45 L238.96,209.19 L239.98,209.92 L241.00,210.66 L242.03,211.40 L243.06,212.15 L244.10,212.89 L245.13,213.64 L246.18,214.39 L247.22,215.14 L248.27,215.90 L249.32,216.65 L250.38,217.41 L251.44,218.18 L252.51,218.94 L253.58,219.71 L254.65,220.48 L255.73,221.25 L256.81,222.02 L257.89,222.80 L258.98,223.58 L260.07,224.36 L261.17,225.14 L262.27,225.93 L263.37,226.72 L264.48,227.51 L265.59,228.31 L266.70,229.10 L267.82,229.90 L268.94,230.70 L270.07,231.51 L271.20,232.31 L272.34,233.12 L273.48,233.93 L274.62,234.75 L274.84,234.91 L275.06,235.06 L275.28,235.22 L275.50,235.38 L275.72,235.53 L275.94,235.69 L276.16,235.85 L276.38,236.01 L276.60,236.15 L276.82,236.31 L277.04,236.44 L277.26,236.61 L277.48,236.81 L277.70,236.93 L277.92,237.08 L278.14,237.23 L278.36,237.42 L278.58,237.57 L278.80,237.69 L279.02,237.90 L279.24,238.05 L279.46,238.22 L279.68,238.33 L279.90,238.57 L280.12,238.68 L280.34,238.81 L280.56,238.95 L280.78,239.12 L281.00,239.33 L281.22,239.43 L281.44,239.66 L281.66,239.79 L281.88,239.99 L282.10,240.12 L282.32,240.22 L282.54,240.26 L282.76,240.56 L282.98,240.75 L283.20,240.87 L283.42,241.05 L283.64,241.13 L283.86,241.29 L284.08,241.40 L284.30,241.75 L284.52,241.81 L284.74,241.90 L284.96,241.98 L285.18,242.25 L285.40,242.56 L285.62,242.62 L285.84,242.65 L286.06,243.04 L286.28,243.20 L286.50,243.31 L286.72,243.45 L286.94,243.65 L287.16,243.74 L287.38,243.92 L287.60,243.88 L287.82,244.34 L288.04,244.33 L288.26,244.73 L288.48,244.31 L288.70,244.87 L288.92,245.07 L289.14,245.02 L289.36,245.30 L289.58,245.51 L289.80,245.64 L290.02,245.61 L290.24,245.83 L290.46,246.19 L290.68,246.39 L290.90,246.34 L291.12,246.50 L291.34,246.67 L291.56,246.99 L291.78,246.75 L292.00,246.84 L292.22,247.29 L292.44,247.19 L292.66,247.45 L292.88,247.75 L293.10,247.99 L293.32,247.81 L293.54,248.38 L293.76,247.95 L293.98,248.63 L294.20,248.29 L294.42,248.52 L294.64,249.13 L294.86,249.03 L295.08,249.09 L295.30,249.33 L295.52,249.72 L295.74,249.74 L295.96,249.90 L296.18,250.35 L296.40,250.02 L296.62,250.25 L296.84,250.39 L297.06,251.02 L297.28,251.13 L297.50,251.38 L297.72,251.14 L297.94,251.26 L298.16,251.73 L298.38,251.50 L298.60,252.04 L298.82,252.16 L299.04,251.86 L299.26,252.22 L299.48,252.36 L299.70,253.14 L299.92,253.59 L300.14,252.83 L300.36,253.02 L300.58,252.36 L300.80,253.41 L301.02,253.48 L301.24,253.24 L301.46,254.09 L301.68,253.36 L301.90,254.02 L302.12,254.31 L302.34,253.92 L302.56,254.91 L302.78,255.15 L303.00,254.32 L303.22,254.46 L303.44,255.44 L303.66,255.33 L303.88,254.98 L304.10,255.53 L304.32,255.76 L304.54,255.90 L304.76,256.49 L304.98,256.45 L305.20,257.24 L305.42,257.22 L305.64,257.06 L305.86,257.41 L306.08,257.68 L306.30,257.55 L306.52,256.76 L306.74,257.94 L306.96,257.71 L307.18,258.64 L307.40,258.03 L307.62,258.41 L307.84,258.46 L308.06,259.33 L308.28,258.69 L308.50,258.61 L308.72,259.08 L308.94,258.82 L309.16,259.31 L309.38,259.37 L309.60,259.68 L309.82,260.78 L310.04,259.60 L310.26,260.01 L310.48,260.03 L310.70,260.70 L310.92,259.75 L311.14,260.19 L311.36,260.74 L311.58,261.26 L311.80,261.05 L312.02,260.92 L312.24,260.84 L312.46,261.87 L312.68,262.63 L312.90,262.06 L313.12,262.13 L313.34,262.45 L313.56,261.68 L313.78,262.26 L314.00,262.44 L314.22,262.98 L314.44,262.91 L314.66,262.23 L314.88,264.04 L315.10,264.60 L315.32,263.36 L315.54,263.99 L315.76,264.05 L315.98,264.59 L316.20,263.06 L316.42,265.54 L316.64,264.12 L316.86,265.60 L317.08,264.85 L317.30,264.64 L317.52,264.98 L317.74,265.96 L317.96,264.71 L318.18,265.25 L318.40,265.32 L318.62,264.46 L318.84,267.09 L319.06,266.66 L319.28,266.31 L319.50,267.47 L319.72,265.82 L319.94,266.73 L320.16,268.44 L320.38,267.96 L320.60,265.29 L320.82,264.45 L321.04,266.63 L321.26,268.68 L321.48,267.44 L321.70,267.83 L321.92,268.74 L322.14,267.51 L322.36,268.69 L322.58,269.40 L322.80,269.25 L323.02,269.34 L323.24,268.52 L323.46,269.77 L323.68,269.00 L323.90,270.87 L324.12,272.30 L324.34,269.14 L324.56,267.83 L324.78,269.75 L325.00,270.73 L325.22,271.59 L325.44,271.78 L325.66,269.98 L325.88,270.12 L326.10,272.47 L326.32,270.09 L326.54,272.61 L326.76,271.33 L326.98,272.58 L327.20,272.67 L327.42,272.91 L327.64,273.12 L327.86,271.23 L328.08,272.85 L328.30,272.68 L328.52,273.17 L328.74,274.41 L328.96,272.80 L329.18,272.43 L329.40,272.56 L329.62,273.21 L329.84,274.65 L330.06,272.90 L330.28,275.47 L330.50,274.56 L330.72,274.08 L330.94,272.84 L331.16,274.98 L331.38,275.70 L331.60,272.72 L331.82,276.67 L332.04,277.42 L332.26,275.88 L332.48,276.24 L332.70,278.94 L332.92,277.54 L333.14,274.85 L333.36,276.19 L333.58,276.15 L333.80,276.31 L334.02,273.42 L334.24,277.88 L334.46,276.10 L334.68,277.37 L334.90,277.10 L335.12,278.69 L335.34,277.18 L335.56,276.61 L335.78,278.69 L336.00,280.12 L336.22,277.75 L336.44,280.41 L336.66,278.92 L336.88,277.88 L337.10,281.14 L337.32,277.75 L337.54,280.70 L337.76,278.54 L337.98,280.16 L338.20,277.69 L338.42,278.45 L338.64,281.60 L338.86,280.38 L339.08,280.29 L339.30,279.68 L339.52,281.26 L339.74,278.42 L339.96,279.01 L340.18,280.74 L340.40,279.77 L340.62,280.14 L340.84,281.35 L341.06,281.39 L341.28,281.40 L341.50,284.76 L341.72,283.81 L341.94,284.33 L342.16,282.35 L342.38,281.69 L342.60,280.24 L342.82,282.27 L343.04,279.47 L343.26,282.18 L343.48,284.63 L343.70,286.24 L343.92,285.28 L344.14,282.33 L344.36,284.78 L344.58,282.76 L344.80,285.66 L345.02,284.22 L345.24,286.03 L345.46,289.10 L345.68,286.44 L345.90,289.00 L346.12,285.49 L346.34,284.78 L346.56,287.76 L346.78,288.58 L347.00,284.86 L347.22,286.09 L347.44,283.68 L347.66,285.93 L347.88,287.94 L348.10,286.44" stroke="#0000ff" stroke-width="1.6" fill="none" stroke-linejoin="round"/>
<path d="M91.02,46.62 L91.02,46.65 L91.02,46.77 L91.02,46.97 L91.03,47.25 L91.04,47.58 L91.04,47.94 L91.05,48.34 L91.07,48.75 L91.08,49.18 L91.10,49.61 L91.11,50.05 L91.13,50.49 L91.16,50.93 L91.18,51.37 L91.21,51.81 L91.24,52.25 L91.27,52.69 L91.30,53.13 L91.33,53.57 L91.37,54.00 L91.41,54.44 L91.45,54.87 L91.50,55.31 L91.55,55.74 L91.60,56.17 L91.65,56.60 L91.70,57.03 L91.76,57.46 L91.82,57.89 L91.88,58.32 L91.94,58.75 L92.01,59.18 L92.08,59.61 L92.15,60.03 L92.23,60.46 L92.30,60.89 L92.38,61.31 L92.47,61.74 L92.55,62.17 L92.64,62.59 L92.73,63.02 L92.82,63.45 L92.92,63.87 L93.02,64.30 L93.12,64.73 L93.22,65.15 L93.33,65.58 L93.44,66.01 L93.55,66.44 L93.67,66.86 L93.78,67.29 L93.90,67.72 L94.03,68.15 L94.15,68.58 L94.28,69.01 L94.41,69.44 L94.55,69.87 L94.69,70.30 L94.83,70.73 L94.97,71.16 L95.12,71.59 L95.27,72.03 L95.42,72.46 L95.57,72.89 L95.73,73.33 L95.89,73.76 L96.06,74.20 L96.22,74.63 L96.39,75.07 L96.57,75.50 L96.74,75.94 L96.92,76.38 L97.10,76.82 L97.29,77.26 L97.48,77.70 L97.67,78.14 L97.86,78.58 L98.06,79.02 L98.26,79.46 L98.46,79.90 L98.67,80.34 L98.88,80.79 L99.09,81.23 L99.30,81.68 L99.52,82.12 L99.74,82.57 L99.97,83.01 L100.20,83.46 L100.43,83.91 L100.66,84.36 L100.90,84.81 L101.14,85.26 L101.38,85.71 L101.63,86.16 L101.88,86.61 L102.13,87.06 L102.39,87.52 L102.65,87.97 L102.91,88.42 L103.18,88.88 L103.45,89.33 L103.72,89.79 L103.99,90.25 L104.27,90.70 L104.55,91.16 L104.84,91.62 L105.13,92.08 L105.42,92.54 L105.71,93.00 L106.01,93.46 L106.31,93.92 L106.62,94.39 L106.93,94.85 L107.24,95.31 L107.55,95.78 L107.87,96.24 L108.19,96.71 L108.52,97.18 L108.85,97.64 L109.18,98.11 L109.51,98.58 L109.85,99.05 L110.19,99.52 L110.53,99.99 L110.88,100.46 L111.23,100.94 L111.59,101.41 L111.95,101.88 L112.31,102.36 L112.67,102.83 L113.04,103.31 L113.41,103.78 L113.79,104.26 L114.17,104.74 L114.55,105.22 L114.93,105.70 L115.32,106.18 L115.71,106.66 L116.11,107.14 L116.51,107.62 L116.91,108.11 L117.31,108.59 L117.72,109.08 L118.14,109.56 L118.55,110.05 L118.97,110.54 L119.39,111.02 L119.82,111.51 L120.25,112.00 L120.68,112.49 L121.12,112.98 L121.56,113.47 L122.01,113.97 L122.45,114.46 L122.90,114.96 L123.36,115.45 L123.82,115.95 L124.28,116.44 L124.74,116.94 L125.21,117.44 L125.68,117.94 L126.16,118.44 L126.64,118.94 L127.12,119.45 L127.60,119.95 L128.09,120.45 L128.59,120.96 L129.08,121.46 L129.58,121.97 L130.09,122.48 L130.60,122.99 L131.11,123.50 L131.62,124.01 L132.14,124.52 L132.66,125.03 L133.19,125.55 L133.71,126.06 L134.25,126.58 L134.78,127.10 L135.32,127.61 L135.87,128.13 L136.41,128.65 L136.96,129.17 L137.52,129.70 L138.08,130.22 L138.64,130.75 L139.20,131.27 L139.77,131.80 L140.34,132.33 L140.92,132.86 L141.50,133.39 L142.08,133.92 L142.67,134.45 L143.26,134.98 L143.85,135.52 L144.45,136.05 L145.05,136.59 L145.66,137.13 L146.27,137.67 L146.88,138.21 L147.50,138.75 L148.12,139.30 L148.74,139.84 L149.37,140.39 L150.00,140.94 L150.63,141.49 L151.27,142.04 L151.91,142.59 L152.56,143.14 L153.21,143.70 L153.86,144.25 L154.52,144.81 L155.18,145.37 L155.85,145.93 L156.51,146.49 L157.19,147.05 L157.86,147.62 L158.54,148.18 L159.22,148.75 L159.91,149.32 L160.60,149.89 L161.30,150.46 L162.00,151.04 L162.70,151.61 L163.40,152.19 L164.11,152.77 L164.83,153.35 L165.54,153.93 L166.26,154.51 L166.99,155.10 L167.72,155.68 L168.45,156.27 L169.19,156.86 L169.93,157.45 L170.67,158.05 L171.42,158.64 L172.17,159.24 L172.92,159.83 L173.68,160.43 L174.45,161.04 L175.21,161.64 L175.98,162.24 L176.76,162.85 L177.54,163.46 L178.32,164.07 L179.10,164.68 L179.89,165.30 L180.69,165.91 L181.48,166.53 L182.29,167.15 L183.09,167.77 L183.90,168.39 L184.71,169.02 L185.53,169.65 L186.35,170.28 L187.17,170.91 L188.00,171.54 L188.83,172.18 L189.67,172.81 L190.51,173.45 L191.35,174.09 L192.20,174.74 L193.05,175.38 L193.91,176.03 L194.77,176.68 L195.63,177.33 L196.50,177.98 L197.37,178.64 L198.24,179.29 L199.12,179.95 L200.01,180.61 L200.89,181.28 L201.78,181.94 L202.68,182.61 L203.58,183.28 L204.48,183.95 L205.39,184.63 L206.30,185.30 L207.21,185.98 L208.13,186.66 L209.05,187.34 L209.98,188.03 L210.91,188.72 L211.84,189.41 L212.78,190.10 L213.72,190.79 L214.67,191.49 L215.62,192.19 L216.57,192.89 L217.53,193.59 L218.49,194.30 L219.45,195.00 L220.42,195.71 L221.40,196.43 L222.37,197.14 L223.36,197.86 L224.34,198.58 L225.33,199.30 L226.33,200.02 L227.32,200.75 L228.32,201.48 L229.33,202.21 L229.55,202.37 L229.77,202.53 L229.99,202.69 L230.21,202.85 L230.43,203.01 L230.65,203.16 L230.87,203.33 L231.09,203.49 L231.31,203.63 L231.53,203.82 L231.75,203.94 L231.97,204.13 L232.19,204.26 L232.41,204.43 L232.63,204.59 L232.85,204.79 L233.07,204.88 L233.29,205.08 L233.51,205.30 L233.73,205.37 L233.95,205.56 L234.17,205.75 L234.39,205.85 L234.61,206.07 L234.83,206.16 L235.05,206.40 L235.27,206.52 L235.49,206.62 L235.71,206.93 L235.93,206.99 L236.15,207.14 L236.37,207.24 L236.59,207.44 L236.81,207.63 L237.03,207.81 L237.25,208.05 L237.47,207.99 L237.69,208.24 L237.91,208.55 L238.13,208.61 L238.35,208.79 L238.57,209.08 L238.79,209.10 L239.01,209.28 L239.23,209.38 L239.45,209.76 L239.67,209.84 L239.89,209.76 L240.11,210.09 L240.33,210.02 L240.55,210.49 L240.77,210.59 L240.99,210.63 L241.21,210.75 L241.43,210.68 L241.65,211.25 L241.87,211.27 L242.09,211.39 L242.31,211.73 L242.53,211.64 L242.75,211.81 L242.97,211.95 L243.19,211.98 L243.41,212.87 L243.63,212.52 L243.85,212.64 L244.07,213.06 L244.29,212.35 L244.51,213.18 L244.73,213.35 L244.95,213.28 L245.17,213.77 L245.39,213.34 L245.61,213.98 L245.83,214.35 L246.05,213.73 L246.27,214.07 L246.49,214.56 L246.71,214.75 L246.93,214.73 L247.15,215.16 L247.37,215.29 L247.59,214.99 L247.81,215.50 L248.03,215.31 L248.25,215.21 L248.47,215.25 L248.69,216.47 L248.91,216.26 L249.13,217.09 L249.35,216.14 L249.57,216.66 L249.79,217.05 L250.01,217.04 L250.23,217.42 L250.45,217.45 L250.67,217.34 L250.89,216.87 L251.11,217.52 L251.33,218.68 L251.55,218.49 L251.77,218.89 L251.99,218.28 L252.21,218.59 L252.43,218.47 L252.65,219.15 L252.87,219.17 L253.09,219.49 L253.31,220.21 L253.53,219.26 L253.75,220.10 L253.97,219.31 L254.19,220.59 L254.41,220.05 L254.63,220.37 L254.85,220.63 L255.07,221.50 L255.29,220.86 L255.51,220.79 L255.73,220.61 L255.95,221.49 L256.17,221.07 L256.39,221.40 L256.61,221.81 L256.83,222.33 L257.05,221.75 L257.27,222.65 L257.49,223.41 L257.71,221.78 L257.93,223.52 L258.15,224.13 L258.37,222.74 L258.59,223.59 L258.81,222.58 L259.03,223.75 L259.25,223.51 L259.47,224.04 L259.69,223.45 L259.91,223.66 L260.13,224.05 L260.35,224.03 L260.57,224.24 L260.79,224.66 L261.01,224.22 L261.23,225.00 L261.45,225.58 L261.67,223.85 L261.89,225.70 L262.11,225.20 L262.33,225.09 L262.55,225.08 L262.77,225.57 L262.99,225.80 L263.21,226.74 L263.43,225.72 L263.65,227.57 L263.87,226.34 L264.09,227.63 L264.31,228.10 L264.53,226.48 L264.75,228.42 L264.97,229.47 L265.19,227.57 L265.41,228.55 L265.63,228.15 L265.85,228.48 L266.07,228.42 L266.29,228.32 L266.51,229.52 L266.73,229.82 L266.95,229.23 L267.17,230.70 L267.39,230.51 L267.61,230.34 L267.83,229.24 L268.05,231.75 L268.27,231.40 L268.49,228.39 L268.71,229.49 L268.93,230.23 L269.15,231.71 L269.37,232.17 L269.59,230.87 L269.81,231.55 L270.03,232.15 L270.25,230.37 L270.47,232.37 L270.69,231.63 L270.91,232.29 L271.13,232.21 L271.35,231.20 L271.57,231.54 L271.79,232.77 L272.01,233.02 L272.23,232.76 L272.45,234.34 L272.67,232.97 L272.89,232.19 L273.11,233.29 L273.33,233.64 L273.55,233.84 L273.77,235.46 L273.99,234.88 L274.21,235.67 L274.43,235.34 L274.65,234.58 L274.87,236.15 L275.09,234.78 L275.31,235.54 L275.53,234.20 L275.75,235.68 L275.97,235.32 L276.19,236.33 L276.41,238.29 L276.63,239.16 L276.85,237.63 L277.07,236.47 L277.29,237.72 L277.51,237.11 L277.73,236.18 L277.95,237.05 L278.17,236.96 L278.39,236.64 L278.61,239.46 L278.83,237.03 L279.05,237.24 L279.27,239.04 L279.49,237.27 L279.71,236.78 L279.93,237.35 L280.15,239.38 L280.37,239.39 L280.59,239.44 L280.81,238.50 L281.03,238.00 L281.25,240.82 L281.47,237.50 L281.69,239.48 L281.91,237.97 L282.13,239.50 L282.35,240.04 L282.57,242.32 L282.79,236.15 L283.01,242.87 L283.23,239.51 L283.45,241.53 L283.67,242.50 L283.89,240.15 L284.11,241.40 L284.33,242.48 L284.55,241.65 L284.77,240.83 L284.99,242.47 L285.21,242.50 L285.43,240.08 L285.65,244.81 L285.87,243.16 L286.09,239.08 L286.31,241.79 L286.53,246.02 L286.75,245.97 L286.97,244.02 L287.19,241.05 L287.41,243.52 L287.63,245.76 L287.85,244.85 L288.07,243.84" stroke="#008b00" stroke-width="1.6" fill="none" stroke-linejoin="round"/>
<path d="M91.02,46.62 L91.02,46.65 L91.02,46.77 L91.02,46.97 L91.03,47.24 L91.04,47.57 L91.04,47.94 L91.05,48.33 L91.07,48.74 L91.08,49.17 L91.10,49.60 L91.11,50.03 L91.13,50.47 L91.16,50.91 L91.18,51.35 L91.21,51.79 L91.23,52.23 L91.26,52.67 L91.30,53.10 L91.33,53.54 L91.37,53.98 L91.41,54.41 L91.45,54.84 L91.50,55.28 L91.54,55.71 L91.59,56.14 L91.64,56.57 L91.70,57.00 L91.75,57.43 L91.81,57.86 L91.87,58.28 L91.94,58.71 L92.00,59.14 L92.07,59.56 L92.14,59.99 L92.22,60.42 L92.30,60.84 L92.37,61.27 L92.46,61.69 L92.54,62.12 L92.63,62.54 L92.72,62.97 L92.81,63.39 L92.91,63.82 L93.00,64.24 L93.10,64.67 L93.21,65.09 L93.31,65.52 L93.42,65.95 L93.53,66.37 L93.65,66.80 L93.76,67.23 L93.88,67.65 L94.01,68.08 L94.13,68.51 L94.26,68.94 L94.39,69.36 L94.53,69.79 L94.66,70.22 L94.80,70.65 L94.94,71.08 L95.09,71.51 L95.24,71.94 L95.39,72.38 L95.54,72.81 L95.70,73.24 L95.86,73.67 L96.02,74.11 L96.19,74.54 L96.36,74.98 L96.53,75.41 L96.70,75.85 L96.88,76.28 L97.06,76.72 L97.25,77.16 L97.43,77.60 L97.62,78.03 L97.81,78.47 L98.01,78.91 L98.21,79.35 L98.41,79.79 L98.62,80.24 L98.82,80.68 L99.03,81.12 L99.25,81.56 L99.47,82.01 L99.69,82.45 L99.91,82.90 L100.14,83.34 L100.36,83.79 L100.60,84.24 L100.83,84.68 L101.07,85.13 L101.31,85.58 L101.56,86.03 L101.81,86.48 L102.06,86.93 L102.31,87.38 L102.57,87.83 L102.83,88.29 L103.10,88.74 L103.36,89.19 L103.63,89.65 L103.91,90.10 L104.18,90.56 L104.46,91.02 L104.75,91.47 L105.03,91.93 L105.32,92.39 L105.62,92.85 L105.91,93.31 L106.21,93.77 L106.52,94.23 L106.82,94.69 L107.13,95.15 L107.44,95.62 L107.76,96.08 L108.08,96.54 L108.40,97.01 L108.73,97.48 L109.05,97.94 L109.39,98.41 L109.72,98.88 L110.06,99.35 L110.40,99.81 L110.75,100.28 L111.10,100.76 L111.45,101.23 L111.81,101.70 L112.17,102.17 L112.53,102.64 L112.89,103.12 L113.26,103.59 L113.63,104.07 L114.01,104.55 L114.39,105.02 L114.77,105.50 L115.16,105.98 L115.55,106.46 L115.94,106.94 L116.34,107.42 L116.74,107.90 L117.14,108.38 L117.55,108.87 L117.96,109.35 L118.37,109.83 L118.78,110.32 L119.21,110.80 L119.63,111.29 L120.06,111.78 L120.49,112.27 L120.92,112.76 L121.36,113.25 L121.80,113.74 L122.24,114.23 L122.69,114.72 L123.14,115.22 L123.60,115.71 L124.05,116.21 L124.52,116.70 L124.98,117.20 L125.45,117.70 L125.92,118.19 L126.40,118.69 L126.88,119.19 L127.36,119.70 L127.85,120.20 L128.34,120.70 L128.83,121.21 L129.33,121.71 L129.83,122.22 L130.33,122.72 L130.84,123.23 L131.35,123.74 L131.86,124.25 L132.38,124.76 L132.90,125.27 L133.43,125.79 L133.96,126.30 L134.49,126.81 L135.03,127.33 L135.57,127.85 L136.11,128.37 L136.66,128.88 L137.21,129.40 L137.76,129.93 L138.32,130.45 L138.88,130.97 L139.45,131.50 L140.01,132.02 L140.59,132.55 L141.16,133.08 L141.74,133.61 L142.32,134.14 L142.91,134.67 L143.50,135.20 L144.09,135.73 L144.69,136.27 L145.29,136.81 L145.90,137.34 L146.51,137.88 L147.12,138.42 L147.73,138.96 L148.35,139.51 L148.98,140.05 L149.60,140.60 L150.24,141.14 L150.87,141.69 L151.51,142.24 L152.15,142.79 L152.79,143.34 L153.44,143.90 L154.10,144.45 L154.75,145.01 L155.41,145.56 L156.08,146.12 L156.74,146.68 L157.42,147.25 L158.09,147.81 L158.77,148.37 L159.45,148.94 L160.14,149.51 L160.83,150.08 L161.52,150.65 L162.22,151.22 L162.92,151.79 L163.62,152.37 L164.33,152.95 L165.05,153.53 L165.76,154.11 L166.48,154.69 L167.21,155.27 L167.93,155.86 L168.66,156.44 L169.40,157.03 L170.14,157.62 L170.88,158.21 L171.63,158.81 L172.38,159.40 L173.13,160.00 L173.89,160.60 L174.65,161.20 L175.42,161.80 L176.18,162.40 L176.96,163.01 L177.73,163.61 L177.95,163.79 L178.17,163.96 L178.39,164.13 L178.61,164.30 L178.83,164.47 L179.05,164.64 L179.27,164.81 L179.49,164.99 L179.71,165.16 L179.93,165.33 L180.15,165.50 L180.37,165.68 L180.59,165.85 L180.81,166.02 L181.03,166.19 L181.25,166.35 L181.47,166.52 L181.69,166.70 L181.91,166.86 L182.13,167.04 L182.35,167.22 L182.57,167.36 L182.79,167.52 L183.01,167.73 L183.23,167.88 L183.45,168.07 L183.67,168.20 L183.89,168.43 L184.11,168.58 L184.33,168.73 L184.55,168.89 L184.77,169.07 L184.99,169.23 L185.21,169.40 L185.43,169.54 L185.65,169.78 L185.87,169.91 L186.09,170.08 L186.31,170.25 L186.53,170.34 L186.75,170.60 L186.97,170.74 L187.19,170.91 L187.41,171.09 L187.63,171.22 L187.85,171.46 L188.07,171.57 L188.29,171.73 L188.51,171.89 L188.73,172.11 L188.95,172.30 L189.17,172.41 L189.39,172.53 L189.61,172.82 L189.83,172.88 L190.05,173.17 L190.27,173.27 L190.49,173.40 L190.71,173.57 L190.93,173.80 L191.15,173.99 L191.37,174.10 L191.59,174.33 L191.81,174.57 L192.03,174.60 L192.25,174.70 L192.47,174.87 L192.69,175.01 L192.91,175.23 L193.13,175.39 L193.35,175.51 L193.57,175.81 L193.79,175.74 L194.01,176.01 L194.23,176.43 L194.45,176.52 L194.67,176.65 L194.89,176.81 L195.11,177.09 L195.33,177.15 L195.55,177.28 L195.77,177.32 L195.99,177.59 L196.21,177.70 L196.43,177.87 L196.65,178.03 L196.87,178.26 L197.09,178.40 L197.31,178.68 L197.53,178.62 L197.75,178.91 L197.97,179.29 L198.19,179.26 L198.41,179.55 L198.63,179.71 L198.85,179.90 L199.07,180.00 L199.29,179.92 L199.51,180.21 L199.73,180.36 L199.95,180.39 L200.17,180.68 L200.39,180.75 L200.61,180.86 L200.83,181.26 L201.05,181.39 L201.27,181.47 L201.49,181.60 L201.71,181.82 L201.93,182.00 L202.15,182.16 L202.37,182.38 L202.59,182.49 L202.81,182.77 L203.03,182.95 L203.25,183.09 L203.47,183.10 L203.69,183.27 L203.91,183.60 L204.13,183.66 L204.35,183.85 L204.57,183.62 L204.79,183.75 L205.01,184.41 L205.23,184.57 L205.45,184.91 L205.67,184.96 L205.89,185.04 L206.11,185.17 L206.33,185.08 L206.55,185.65 L206.77,185.55 L206.99,185.91 L207.21,186.02 L207.43,186.20 L207.65,186.48 L207.87,186.38 L208.09,186.56 L208.31,186.63 L208.53,186.89 L208.75,187.46 L208.97,187.21 L209.19,187.70 L209.41,187.79 L209.63,187.93 L209.85,188.11 L210.07,187.88 L210.29,188.35 L210.51,188.78 L210.73,188.44 L210.95,188.74 L211.17,188.76 L211.39,189.15 L211.61,188.99 L211.83,189.78 L212.05,189.48 L212.27,189.36 L212.49,190.32 L212.71,190.29 L212.93,190.34 L213.15,190.51 L213.37,190.45 L213.59,190.64 L213.81,191.05 L214.03,191.26 L214.25,191.43 L214.47,191.40 L214.69,191.39 L214.91,191.62 L215.13,192.13 L215.35,192.39 L215.57,192.06 L215.79,192.19 L216.01,192.83 L216.23,192.85 L216.45,193.00 L216.67,192.59 L216.89,193.02 L217.11,193.14 L217.33,193.51 L217.55,193.11 L217.77,194.16 L217.99,194.03 L218.21,194.23 L218.43,193.89 L218.65,194.41 L218.87,195.00 L219.09,194.24 L219.31,195.00 L219.53,195.29 L219.75,195.00 L219.97,195.65 L220.19,195.44 L220.41,196.12 L220.63,196.05 L220.85,196.11 L221.07,196.88 L221.29,196.64 L221.51,196.97 L221.73,196.25 L221.95,196.60 L222.17,197.29 L222.39,197.48 L222.61,197.30 L222.83,197.76 L223.05,197.24 L223.27,197.88 L223.49,197.53 L223.71,198.25 L223.93,198.09 L224.15,198.19 L224.37,198.62 L224.59,199.47 L224.81,198.52 L225.03,198.84 L225.25,199.67 L225.47,199.23 L225.69,200.29 L225.91,199.81 L226.13,199.92 L226.35,200.19 L226.57,200.94 L226.79,200.64 L227.01,200.75 L227.23,200.79 L227.45,200.17 L227.67,200.62 L227.89,201.82 L228.11,201.69 L228.33,201.71" stroke="#ff0000" stroke-width="1.6" fill="none" stroke-linejoin="round"/>
<path d="M91.02,46.62 L91.02,46.62 L91.02,46.63 L91.02,46.65 L91.02,46.68 L91.02,46.72 L91.02,46.76 L91.02,46.82 L91.02,46.89 L91.02,46.96 L91.03,47.04 L91.03,47.13 L91.03,47.22 L91.03,47.32 L91.03,47.43 L91.04,47.54 L91.04,47.66 L91.04,47.78 L91.04,47.90 L91.05,48.02 L91.05,48.15 L91.05,48.28 L91.06,48.41 L91.06,48.55 L91.06,48.68 L91.07,48.82 L91.07,48.96 L91.08,49.10 L91.08,49.24 L91.09,49.38 L91.09,49.52 L91.10,49.66 L91.10,49.81 L91.11,49.95 L91.12,50.09 L91.12,50.23 L91.13,50.38 L91.14,50.52 L91.14,50.67 L91.15,50.81 L91.16,50.95 L91.17,51.10 L91.17,51.24 L91.18,51.39 L91.19,51.53 L91.20,51.67 L91.21,51.82 L91.22,51.96 L91.23,52.11 L91.24,52.25 L91.25,52.39 L91.26,52.54 L91.27,52.68 L91.28,52.82 L91.29,52.97 L91.30,53.11 L91.31,53.25 L91.32,53.40 L91.33,53.54 L91.34,53.68 L91.36,53.82 L91.37,53.97 L91.38,54.11 L91.39,54.25 L91.41,54.39 L91.42,54.54 L91.43,54.68 L91.45,54.82 L91.46,54.96 L91.48,55.10 L91.49,55.25 L91.51,55.39 L91.52,55.53 L91.54,55.67 L91.55,55.81 L91.57,55.95 L91.59,56.09 L91.60,56.23 L91.62,56.38 L91.64,56.52 L91.65,56.66 L91.67,56.80 L91.69,56.94 L91.71,57.08 L91.73,57.22 L91.74,57.36 L91.76,57.50 L91.78,57.64 L91.80,57.78 L91.82,57.92 L91.84,58.06 L91.86,58.20 L91.88,58.34 L91.90,58.48 L91.92,58.62 L91.95,58.76 L91.97,58.90 L91.99,59.04 L92.01,59.18 L92.03,59.32 L92.06,59.46 L92.08,59.60 L92.10,59.74 L92.13,59.88 L92.15,60.02 L92.17,60.16 L92.20,60.30 L92.22,60.44 L92.25,60.57 L92.27,60.71 L92.30,60.85 L92.32,60.99 L92.35,61.13 L92.38,61.27 L92.40,61.41 L92.43,61.55 L92.46,61.69 L92.48,61.83 L92.51,61.97 L92.54,62.11 L92.57,62.25 L92.60,62.39 L92.62,62.52 L92.65,62.66 L92.68,62.80 L92.71,62.94 L92.74,63.08 L92.77,63.22 L92.80,63.36 L92.83,63.50 L92.87,63.64 L92.90,63.78 L92.93,63.92 L92.96,64.06 L92.99,64.20 L93.03,64.34 L93.06,64.47 L93.09,64.61 L93.12,64.75 L93.16,64.89 L93.19,65.03 L93.23,65.17 L93.26,65.31 L93.30,65.45 L93.33,65.59 L93.37,65.73 L93.40,65.87 L93.44,66.01 L93.47,66.15 L93.51,66.29 L93.55,66.43 L93.59,66.57 L93.62,66.71 L93.66,66.85 L93.70,66.99 L93.74,67.13 L93.78,67.27 L93.82,67.41 L93.85,67.55 L93.89,67.69 L93.93,67.83 L93.97,67.97 L94.01,68.11 L94.06,68.25 L94.10,68.39 L94.14,68.53 L94.18,68.67 L94.22,68.81 L94.26,68.95 L94.31,69.09 L94.35,69.23 L94.39,69.37 L94.44,69.51 L94.48,69.65 L94.52,69.79 L94.57,69.93 L94.61,70.07 L94.66,70.21 L94.70,70.35 L94.75,70.49 L94.80,70.63 L94.84,70.77 L94.89,70.92 L94.94,71.06 L94.98,71.20 L95.03,71.34 L95.08,71.48 L95.13,71.62 L95.18,71.76 L95.22,71.90 L95.27,72.04 L95.32,72.19 L95.37,72.33 L95.42,72.47 L95.47,72.61 L95.52,72.75 L95.57,72.89 L95.63,73.03 L95.68,73.18 L95.73,73.32 L95.78,73.46 L95.83,73.60 L95.89,73.74 L95.94,73.89 L95.99,74.03 L96.05,74.17 L96.10,74.31 L96.16,74.45 L96.21,74.60 L96.27,74.74 L96.32,74.88 L96.38,75.02 L96.43,75.17 L96.49,75.31 L96.55,75.45 L96.60,75.59 L96.66,75.74 L96.72,75.88 L96.78,76.02 L96.83,76.17 L96.89,76.31 L96.95,76.45 L97.01,76.59 L97.07,76.74 L97.13,76.88 L97.19,77.02 L97.25,77.17 L97.31,77.31 L97.37,77.45 L97.43,77.60 L97.50,77.74 L97.56,77.88 L97.62,78.03 L97.68,78.17 L97.75,78.32 L97.81,78.46 L97.87,78.60 L97.94,78.75 L98.00,78.89 L98.07,79.04 L98.13,79.18 L98.20,79.32 L98.26,79.47 L98.33,79.61 L98.39,79.76 L98.46,79.90 L98.53,80.05 L98.60,80.19 L98.66,80.34 L98.73,80.48 L98.80,80.63 L98.87,80.77 L98.94,80.92 L99.01,81.06 L99.08,81.21 L99.15,81.35 L99.22,81.50 L99.29,81.64 L99.36,81.79 L99.43,81.93 L99.50,82.08 L99.57,82.22 L99.64,82.37 L99.72,82.51 L99.79,82.66 L99.86,82.81 L99.94,82.95 L100.01,83.10 L100.08,83.24 L100.16,83.39 L100.23,83.54 L100.31,83.68 L100.39,83.83 L100.46,83.97 L100.54,84.12 L100.61,84.27 L100.69,84.41 L100.77,84.56 L100.85,84.71 L100.92,84.85 L101.00,85.00 L101.08,85.15 L101.16,85.29 L101.24,85.44 L101.32,85.59 L101.40,85.74 L101.48,85.88 L101.56,86.03 L101.64,86.18 L101.72,86.33 L101.80,86.47 L101.89,86.62 L101.97,86.77 L102.05,86.92 L102.13,87.06 L102.22,87.21 L102.30,87.36 L102.38,87.51 L102.47,87.65 L102.55,87.80 L102.64,87.95 L102.72,88.10 L102.81,88.25 L102.90,88.40 L102.98,88.54 L103.07,88.69 L103.16,88.84 L103.24,88.99 L103.33,89.14 L103.42,89.29 L103.51,89.44 L103.60,89.59 L103.69,89.73 L103.77,89.88 L103.86,90.03 L103.95,90.18 L104.05,90.33 L104.14,90.48 L104.23,90.63 L104.32,90.78 L104.41,90.93 L104.50,91.08 L104.60,91.23 L104.69,91.38 L104.78,91.53 L104.88,91.68 L104.97,91.83 L105.06,91.98 L105.16,92.13 L105.25,92.28 L105.35,92.43 L105.44,92.58 L105.54,92.73 L105.64,92.88 L105.73,93.03 L105.83,93.18 L105.93,93.33 L106.03,93.48 L106.12,93.63 L106.22,93.78 L106.32,93.93 L106.42,94.09 L106.52,94.24 L106.62,94.39 L106.72,94.54 L106.82,94.69 L106.92,94.84 L107.02,94.99 L107.12,95.14 L107.23,95.30 L107.33,95.45 L107.43,95.60 L107.53,95.75 L107.64,95.90 L107.74,96.06 L107.85,96.21 L107.95,96.36 L108.06,96.51 L108.16,96.66 L108.27,96.82 L108.37,96.97 L108.48,97.12 L108.58,97.27 L108.69,97.43 L108.80,97.58 L108.91,97.73 L109.01,97.88 L109.12,98.04 L109.23,98.19 L109.34,98.34 L109.45,98.50 L109.56,98.65 L109.67,98.80 L109.78,98.96 L109.89,99.11 L110.00,99.26 L110.11,99.42 L110.23,99.57 L110.34,99.72 L110.45,99.88 L110.56,100.03 L110.68,100.19 L110.79,100.34 L110.90,100.49 L111.02,100.65 L111.13,100.80 L111.25,100.96 L111.36,101.11 L111.48,101.27 L111.60,101.42 L111.71,101.57 L111.83,101.73 L111.95,101.88 L112.06,102.04 L112.18,102.19 L112.30,102.35 L112.42,102.50 L112.54,102.66 L112.66,102.81 L112.78,102.97 L112.90,103.13 L113.02,103.28 L113.14,103.44 L113.26,103.59 L113.38,103.75 L113.50,103.90 L113.63,104.06 L113.75,104.21 L113.87,104.37 L114.00,104.53 L114.12,104.68 L114.24,104.84 L114.37,105.00 L114.49,105.15 L114.62,105.31 L114.74,105.46 L114.87,105.62 L115.00,105.78 L115.12,105.94 L115.25,106.09 L115.38,106.25 L115.51,106.41 L115.63,106.56 L115.76,106.72 L115.89,106.88 L116.02,107.03 L116.15,107.19 L116.28,107.35 L116.41,107.51 L116.54,107.66 L116.67,107.82 L116.80,107.98 L116.93,108.14 L117.07,108.30 L117.20,108.45 L117.33,108.61 L117.47,108.77 L117.60,108.93 L117.73,109.09 L117.87,109.25 L118.00,109.40 L118.14,109.56 L118.27,109.72 L118.41,109.88 L118.55,110.04 L118.68,110.20 L118.82,110.36 L118.96,110.52 L119.09,110.68 L119.23,110.84 L119.37,110.99 L119.51,111.15 L119.65,111.31 L119.79,111.47 L119.93,111.63 L120.07,111.79 L120.21,111.95 L120.35,112.11 L120.49,112.27 L120.63,112.43 L120.77,112.59 L120.92,112.75 L121.06,112.91 L121.20,113.07 L121.35,113.24 L121.49,113.40 L121.64,113.56 L121.78,113.72 L121.92,113.88 L122.07,114.04 L122.22,114.20 L122.36,114.36 L122.51,114.52 L122.66,114.68 L122.80,114.85 L122.95,115.01 L123.10,115.17 L123.25,115.33 L123.40,115.49 L123.55,115.66 L123.70,115.82 L123.85,115.98 L124.00,116.14 L124.15,116.30 L124.30,116.47 L124.45,116.63 L124.60,116.79 L124.75,116.95 L124.91,117.12 L125.06,117.28 L125.21,117.44 L125.37,117.61 L125.52,117.77 L125.67,117.93 L125.83,118.10 L125.98,118.26 L126.14,118.42 L126.30,118.59 L126.45,118.75 L126.61,118.91 L126.77,119.08 L126.92,119.24 L127.08,119.41 L127.24,119.57 L127.40,119.73 L127.56,119.90 L127.72,120.06 L127.88,120.23 L128.04,120.39 L128.20,120.56 L128.36,120.72 L128.52,120.89 L128.68,121.05 L128.84,121.22 L129.00,121.38 L129.17,121.55 L129.33,121.71 L129.49,121.88 L129.66,122.05 L129.82,122.21 L129.99,122.38 L130.15,122.54 L130.32,122.71 L130.48,122.88 L130.65,123.04 L130.82,123.21 L130.98,123.38 L131.15,123.54 L131.32,123.71 L131.49,123.88 L131.65,124.04 L131.82,124.21 L131.99,124.38 L132.16,124.54 L132.33,124.71 L132.50,124.88 L132.67,125.05 L132.84,125.21 L133.02,125.38 L133.19,125.55 L133.36,125.72 L133.53,125.89 L133.71,126.05 L133.88,126.22 L134.05,126.39 L134.23,126.56 L134.40,126.73 L134.58,126.90 L134.75,127.07 L134.93,127.24 L135.10,127.40 L135.28,127.57 L135.46,127.74 L135.64,127.91 L135.81,128.08 L135.99,128.25 L136.17,128.42 L136.35,128.59 L136.53,128.76 L136.71,128.93 L136.89,129.10 L137.07,129.27 L137.25,129.44 L137.43,129.61 L137.61,129.78 L137.79,129.96 L137.98,130.13 L138.16,130.30 L138.34,130.47 L138.52,130.64 L138.71,130.81 L138.89,130.98 L139.08,131.16 L139.26,131.33 L139.45,131.50 L139.63,131.67 L139.82,131.84 L140.01,132.02 L140.19,132.19 L140.38,132.36 L140.57,132.53 L140.76,132.71 L140.95,132.88 L141.13,133.05 L141.32,133.23 L141.51,133.40 L141.70,133.57 L141.89,133.75 L142.08,133.92 L142.28,134.09 L142.47,134.27 L142.66,134.44 L142.85,134.62 L143.04,134.79 L143.24,134.96 L143.43,135.14 L143.63,135.31 L143.82,135.49 L144.01,135.66 L144.21,135.84 L144.41,136.01 L144.60,136.19 L144.80,136.36 L144.99,136.54 L145.19,136.72 L145.39,136.89 L145.59,137.07 L145.79,137.24 L145.98,137.42 L146.18,137.60 L146.38,137.77 L146.58,137.95 L146.78,138.13 L146.98,138.30 L147.18,138.48 L147.39,138.66 L147.59,138.83 L147.79,139.01 L147.99,139.19 L148.20,139.37 L148.40,139.55 L148.60,139.72 L148.81,139.90 L149.01,140.08 L149.22,140.26 L149.42,140.44 L149.63,140.62 L149.83,140.80 L150.04,140.97 L150.25,141.15 L150.45,141.33 L150.66,141.51 L150.87,141.69 L151.08,141.87 L151.29,142.05 L151.50,142.23 L151.71,142.41 L151.92,142.59 L152.13,142.77 L152.34,142.95 L152.55,143.13 L152.76,143.31 L152.97,143.50 L153.19,143.68 L153.40,143.86 L153.61,144.04 L153.83,144.22 L154.04,144.40 L154.25,144.59 L154.47,144.77 L154.68,144.95 L154.90,145.13 L155.12,145.31 L155.33,145.50 L155.55,145.68 L155.77,145.86 L155.98,146.05 L156.20,146.23 L156.42,146.41 L156.64,146.60 L156.86,146.78 L157.08,146.96 L157.30,147.15 L157.52,147.33 L157.74,147.52 L157.96,147.70 L158.18,147.89 L158.41,148.07 L158.63,148.26 L158.85,148.44 L159.07,148.63 L159.30,148.81 L159.52,149.00 L159.75,149.18 L159.97,149.37 L160.20,149.56 L160.42,149.74 L160.65,149.93 L160.87,150.12 L161.10,150.30 L161.33,150.49 L161.56,150.68 L161.78,150.86 L162.01,151.05 L162.24,151.24 L162.47,151.43 L162.70,151.62 L162.93,151.80 L163.16,151.99 L163.39,152.18 L163.62,152.37 L163.86,152.56 L164.09,152.75 L164.32,152.94 L164.55,153.13 L164.79,153.31 L165.02,153.50 L165.25,153.69 L165.49,153.88 L165.72,154.07 L165.96,154.26 L166.19,154.46 L166.43,154.65 L166.67,154.84 L166.90,155.03 L167.14,155.22 L167.38,155.41 L167.62,155.60 L167.86,155.79 L168.09,155.99 L168.33,156.18 L168.57,156.37 L168.81,156.56 L169.05,156.76 L169.30,156.95 L169.54,157.14 L169.78,157.33 L170.02,157.53 L170.26,157.72 L170.51,157.91 L170.75,158.11 L170.99,158.30 L171.24,158.50 L171.48,158.69 L171.73,158.89 L171.97,159.08 L172.22,159.28 L172.47,159.47 L172.71,159.67 L172.96,159.86 L173.21,160.06 L173.45,160.25 L173.70,160.45 L173.95,160.65 L174.20,160.84 L174.45,161.04 L174.70,161.24 L174.95,161.43 L175.20,161.63 L175.45,161.83 L175.70,162.02 L175.96,162.22 L176.21,162.42 L176.46,162.62 L176.71,162.82 L176.97,163.02 L177.22,163.21 L177.48,163.41 L177.73,163.61 L177.99,163.81 L178.24,164.01 L178.50,164.21 L178.75,164.41 L179.01,164.61 L179.27,164.81 L179.53,165.01 L179.78,165.21 L180.04,165.41 L180.30,165.61 L180.56,165.82 L180.82,166.02 L181.08,166.22 L181.34,166.42 L181.60,166.62 L181.86,166.82 L182.13,167.03 L182.39,167.23 L182.65,167.43 L182.91,167.64 L183.18,167.84 L183.44,168.04 L183.71,168.25 L183.97,168.45 L184.23,168.65 L184.50,168.86 L184.77,169.06 L185.03,169.27 L185.30,169.47 L185.57,169.68 L185.83,169.88 L186.10,170.09 L186.37,170.29 L186.64,170.50 L186.91,170.70 L187.18,170.91 L187.45,171.12 L187.72,171.32 L187.99,171.53 L188.26,171.74 L188.53,171.95 L188.80,172.15 L189.08,172.36 L189.35,172.57 L189.62,172.78 L189.90,172.99 L190.17,173.19 L190.45,173.40 L190.72,173.61 L191.00,173.82 L191.27,174.03 L191.55,174.24 L191.82,174.45 L192.10,174.66 L192.38,174.87 L192.66,175.08 L192.94,175.29 L193.21,175.50 L193.49,175.71 L193.77,175.93 L194.05,176.14 L194.33,176.35 L194.61,176.56 L194.90,176.77 L195.18,176.99 L195.46,177.20 L195.74,177.41 L196.02,177.62 L196.31,177.84 L196.59,178.05 L196.88,178.26 L197.16,178.48 L197.45,178.69 L197.73,178.91 L198.02,179.12 L198.30,179.34 L198.59,179.55 L198.88,179.77 L199.16,179.98 L199.45,180.20 L199.74,180.41 L200.03,180.63 L200.32,180.85 L200.61,181.06 L200.90,181.28 L201.19,181.50 L201.48,181.71 L201.77,181.93 L202.06,182.15 L202.35,182.37 L202.65,182.59 L202.94,182.81 L203.23,183.02 L203.53,183.24 L203.82,183.46 L204.12,183.68 L204.41,183.90 L204.71,184.12 L205.00,184.34 L205.30,184.56 L205.59,184.78 L205.89,185.00 L206.19,185.22 L206.49,185.44 L206.79,185.67 L207.08,185.89 L207.38,186.11 L207.68,186.33 L207.98,186.55 L208.28,186.78 L208.58,187.00 L208.89,187.22 L209.19,187.45 L209.49,187.67 L209.79,187.89 L210.10,188.12 L210.40,188.34 L210.70,188.57 L211.01,188.79 L211.31,189.02 L211.62,189.24 L211.92,189.47 L212.23,189.69 L212.53,189.92 L212.84,190.14 L213.15,190.37 L213.46,190.60 L213.76,190.82 L214.07,191.05 L214.38,191.28 L214.69,191.51 L215.00,191.73 L215.31,191.96 L215.62,192.19 L215.93,192.42 L216.24,192.65 L216.56,192.88 L216.87,193.11 L217.18,193.34 L217.49,193.57 L217.81,193.80 L218.12,194.03 L218.44,194.26 L218.75,194.49 L219.07,194.72 L219.38,194.95 L219.70,195.18 L220.01,195.41 L220.33,195.65 L220.65,195.88 L220.97,196.11 L221.28,196.34 L221.60,196.58 L221.92,196.81 L222.24,197.04 L222.56,197.28 L222.88,197.51 L223.20,197.74 L223.52,197.98 L223.84,198.21 L224.17,198.45 L224.49,198.68 L224.81,198.92 L225.14,199.16 L225.46,199.39 L225.78,199.63 L226.11,199.86 L226.43,200.10 L226.76,200.34 L227.08,200.58 L227.41,200.81 L227.74,201.05 L228.06,201.29 L228.39,201.53 L228.72,201.77 L229.05,202.00 L229.38,202.24 L229.71,202.48 L230.04,202.72 L230.37,202.96 L230.70,203.20 L231.03,203.44 L231.36,203.68 L231.69,203.92 L232.02,204.16 L232.36,204.41 L232.69,204.65 L233.02,204.89 L233.36,205.13 L233.69,205.37 L234.03,205.62 L234.36,205.86 L234.70,206.10 L235.03,206.35 L235.37,206.59 L235.71,206.83 L236.04,207.08 L236.38,207.32 L236.72,207.57 L237.06,207.81 L237.40,208.06 L237.74,208.30 L238.08,208.55 L238.42,208.79 L238.76,209.04 L239.10,209.29 L239.44,209.53 L239.78,209.78 L240.13,210.03 L240.47,210.28 L240.81,210.52 L241.16,210.77 L241.50,211.02 L241.85,211.27 L242.19,211.52 L242.54,211.77 L242.88,212.02 L243.23,212.27 L243.58,212.52 L243.92,212.77 L244.27,213.02 L244.62,213.27 L244.97,213.52 L245.32,213.77 L245.67,214.02 L246.02,214.27 L246.37,214.53 L246.72,214.78 L247.07,215.03 L247.42,215.28 L247.77,215.54 L248.12,215.79 L248.48,216.05 L248.83,216.30 L249.18,216.55 L249.54,216.81 L249.89,217.06 L250.25,217.32 L250.60,217.57 L250.96,217.83 L251.32,218.08 L251.67,218.34 L252.03,218.60 L252.39,218.85 L252.75,219.11 L253.10,219.37 L253.46,219.63 L253.82,219.88 L254.18,220.14 L254.54,220.40 L254.90,220.66 L255.26,220.92 L255.63,221.18 L255.99,221.44 L256.35,221.70 L256.71,221.96 L257.08,222.22 L257.44,222.48 L257.80,222.74 L258.17,223.00 L258.53,223.26 L258.90,223.52 L259.27,223.78 L259.63,224.05 L260.00,224.31 L260.37,224.57 L260.73,224.83 L261.10,225.10 L261.47,225.36 L261.84,225.63 L262.21,225.89 L262.58,226.15 L262.95,226.42 L263.32,226.68 L263.69,226.95 L264.06,227.21 L264.43,227.48 L264.81,227.75 L265.18,228.01 L265.55,228.28 L265.93,228.55 L266.30,228.81 L266.67,229.08 L267.05,229.35 L267.43,229.62 L267.80,229.89 L268.18,230.15 L268.55,230.42 L268.93,230.69 L269.31,230.96 L269.69,231.23 L270.07,231.50 L270.44,231.77 L270.82,232.04 L271.20,232.31 L271.58,232.59 L271.97,232.86 L272.35,233.13 L272.73,233.40 L273.11,233.67 L273.49,233.95 L273.88,234.22 L274.26,234.49 L274.64,234.76 L275.03,235.04 L275.41,235.31 L275.80,235.59 L276.18,235.86 L276.57,236.14 L276.95,236.41 L277.34,236.69 L277.73,236.96 L278.12,237.24 L278.50,237.52 L278.89,237.79 L279.28,238.07 L279.67,238.35 L280.06,238.62 L280.45,238.90 L280.84,239.18 L281.23,239.46 L281.63,239.74 L282.02,240.02 L282.41,240.29 L282.80,240.57 L283.20,240.85 L283.59,241.13 L283.98,241.41 L284.38,241.69 L284.77,241.98 L285.17,242.26 L285.57,242.54 L285.96,242.82 L286.36,243.10 L286.76,243.38 L287.16,243.67 L287.55,243.95 L287.95,244.23 L288.35,244.52 L288.75,244.80 L289.15,245.08 L289.55,245.37 L289.95,245.65 L290.35,245.94 L290.76,246.22 L291.16,246.51 L291.56,246.80 L291.96,247.08 L292.37,247.37 L292.77,247.66 L293.18,247.94 L293.58,248.23 L293.99,248.52 L294.39,248.81 L294.80,249.09 L295.20,249.38 L295.61,249.67 L296.02,249.96 L296.43,250.25 L296.84,250.54 L297.24,250.83 L297.65,251.12 L298.06,251.41 L298.47,251.70 L298.88,251.99 L299.30,252.28 L299.71,252.58 L300.12,252.87 L300.53,253.16 L300.94,253.45 L301.36,253.75 L301.77,254.04 L302.19,254.33 L302.60,254.63 L303.02,254.92 L303.43,255.21 L303.85,255.51 L304.26,255.80 L304.68,256.10 L305.10,256.39 L305.52,256.69 L305.93,256.99 L306.35,257.28 L306.77,257.58 L307.19,257.88 L307.61,258.17 L308.03,258.47 L308.45,258.77 L308.87,259.07 L309.30,259.37 L309.72,259.67 L310.14,259.97 L310.56,260.26 L310.99,260.56 L311.41,260.86 L311.84,261.17 L312.26,261.47 L312.69,261.77 L313.11,262.07 L313.54,262.37 L313.96,262.67 L314.39,262.97 L314.82,263.28 L315.25,263.58 L315.67,263.88 L316.10,264.19 L316.53,264.49 L316.96,264.79 L317.39,265.10 L317.82,265.40 L318.25,265.71 L318.69,266.01 L319.12,266.32 L319.55,266.62 L319.98,266.93 L320.42,267.24 L320.85,267.54 L321.29,267.85 L321.72,268.16 L322.15,268.46 L322.59,268.77 L323.03,269.08 L323.46,269.39 L323.90,269.70 L324.34,270.01 L324.78,270.32 L325.21,270.63 L325.65,270.94 L326.09,271.25 L326.53,271.56 L326.97,271.87 L327.41,272.18 L327.85,272.49 L328.29,272.80 L328.74,273.11 L329.18,273.43 L329.62,273.74 L330.06,274.05 L330.51,274.37 L330.95,274.68 L331.40,274.99 L331.84,275.31 L332.29,275.62 L332.73,275.94 L333.18,276.25 L333.63,276.57 L334.07,276.88 L334.52,277.20 L334.97,277.52 L335.42,277.83 L335.87,278.15 L336.32,278.47 L336.77,278.79 L337.22,279.10 L337.67,279.42 L338.12,279.74 L338.57,280.06 L339.02,280.38 L339.47,280.70 L339.93,281.02 L340.38,281.34 L340.84,281.66 L341.29,281.98 L341.74,282.30 L342.20,282.62 L342.66,282.94 L343.11,283.27 L343.57,283.59 L344.03,283.91 L344.48,284.23 L344.94,284.56 L345.40,284.88 L345.86,285.20 L346.32,285.53 L346.78,285.85 L347.24,286.18 L347.70,286.50 L348.16,286.83 L348.62,287.15 L349.08,287.48 L349.55,287.80 L350.01,288.13 L350.47,288.46 L350.94,288.79 L351.40,289.11 L351.87,289.44 L352.33,289.77 L352.80,290.10 L353.26,290.43 L353.73,290.76 L354.20,291.08 L354.66,291.41 L355.13,291.74 L355.60,292.07 L356.07,292.41 L356.54,292.74 L357.01,293.07 L357.48,293.40 L357.95,293.73 L358.42,294.06 L358.89,294.40 L359.37,294.73 L359.84,295.06 L360.31,295.39 L360.78,295.73 L361.26,296.06 L361.73,296.40 L362.21,296.73 L362.68,297.07 L363.16,297.40 L363.63,297.74 L364.11,298.07 L364.59,298.41 L365.07,298.75 L365.54,299.08 L366.02,299.42 L366.50,299.76 L366.98,300.10 L367.46,300.43 L367.94,300.77 L368.42,301.11 L368.90,301.45 L369.38,301.79 L369.87,302.13 L370.35,302.47 L370.83,302.81 L371.31,303.15 L371.80,303.49 L372.28,303.83 L372.77,304.17 L373.25,304.52 L373.74,304.86 L374.22,305.20 L374.71,305.54 L375.20,305.89 L375.69,306.23 L376.17,306.57 L376.66,306.92 L377.15,307.26 L377.64,307.61 L378.13,307.95 L378.62,308.30 L379.11,308.64 L379.60,308.99 L380.09,309.33 L380.59,309.68 L381.08,310.03 L381.57,310.37 L382.06,310.72 L382.56,311.07 L383.05,311.42 L383.55,311.77 L384.04,312.12 L384.54,312.46 L385.03,312.81 L385.53,313.16 L386.03,313.51 L386.53,313.86 L387.02,314.22 L387.52,314.57 L388.02,314.92 L388.52,315.27 L389.02,315.62 L389.52,315.97 L390.02,316.33 L390.52,316.68 L391.02,317.03 L391.53,317.39 L392.03,317.74 L392.53,318.09 L393.04,318.45 L393.54,318.80 L394.04,319.16 L394.55,319.51 L395.05,319.87 L395.56,320.23 L396.07,320.58 L396.57,320.94 L397.08,321.30 L397.59,321.65 L398.10,322.01 L398.61,322.37 L399.11,322.73 L399.62,323.09 L400.13,323.44 L400.64,323.80 L401.15,324.16 L401.67,324.52 L402.18,324.88 L402.69,325.24 L403.20,325.60 L403.72,325.97 L404.23,326.33 L404.74,326.69 L405.26,327.05 L405.77,327.41 L406.29,327.78 L406.80,328.14 L407.32,328.50 L407.84,328.87 L408.35,329.23 L408.87,329.59 L409.39,329.96 L409.91,330.32 L410.43,330.69 L410.95,331.06 L411.47,331.42 L411.99,331.79 L412.51,332.15 L413.03,332.52 L413.55,332.89 L414.08,333.26 L414.60,333.62 L415.12,333.99 L415.65,334.36 L416.17,334.73 L416.69,335.10 L417.22,335.47 L417.75,335.84 L418.27,336.21 L418.80,336.58 L419.32,336.95 L419.85,337.32 L420.38,337.69 L420.91,338.06 L421.44,338.44 L421.97,338.81 L422.50,339.18 L423.03,339.55 L423.56,339.93 L424.09,340.30 L424.62,340.67 L425.15,341.05 L425.68,341.42 L426.22,341.80 L426.75,342.17 L427.28,342.55 L427.82,342.93 L428.35,343.30 L428.89,343.68 L429.42,344.05 L429.96,344.43 L430.50,344.81 L431.03,345.19 L431.57,345.57 L432.11,345.94 L432.65,346.32 L433.19,346.70 L433.73,347.08 L434.27,347.46 L434.81,347.84 L435.35,348.22 L435.89,348.60 L436.43,348.98 L436.97,349.36 L437.52,349.75 L438.06,350.13 L438.60,350.51 L439.15,350.89 L439.69,351.28 L440.24,351.66 L440.78,352.04 L441.33,352.43 L441.88,352.81 L442.42,353.20 L442.97,353.58 L443.52,353.97 L444.07,354.35 L444.61,354.74 L445.16,355.12 L445.71,355.51 L446.26,355.90 L446.81,356.29 L447.37,356.67 L447.92,357.06 L448.47,357.45 L449.02,357.84 L449.57,358.23 L450.13,358.62 L450.68,359.00 L451.24,359.39 L451.79,359.78 L452.35,360.18 L452.90,360.57 L453.46,360.96 L454.01,361.35 L454.57,361.74 L455.13,362.13 L455.69,362.52 L456.25,362.92 L456.80,363.31 L457.36,363.70 L457.92,364.10 L458.48,364.49 L459.05,364.89 L459.61,365.28 L460.17,365.68 L460.73,366.07 L461.29,366.47 L461.86,366.86 L462.42,367.26 L462.98,367.66 L463.55,368.05 L464.11,368.45 L464.68,368.85 L465.25,369.25 L465.81,369.64 L466.38,370.04 L466.95,370.44 L467.51,370.84 L468.08,371.24 L468.65,371.64 L469.22,372.04 L469.79,372.44 L470.36,372.84 L470.93,373.24 L471.50,373.64 L472.07,374.05 L472.65,374.45 L473.22,374.85 L473.79,375.25 L474.37,375.66 L474.94,376.06 L475.51,376.46 L476.09,376.87 L476.66,377.27 L477.24,377.68 L477.82,378.08 L478.39,378.49 L478.97,378.89 L479.55,379.30 L480.13,379.71 L480.70,380.11 L481.28,380.52 L481.86,380.93 L482.44,381.34 L483.02,381.74 L483.60,382.15 L484.19,382.56 L484.77,382.97 L485.35,383.38 L485.93,383.79 L486.52,384.20 L487.10,384.61 L487.68,385.02 L488.27,385.43 L488.85,385.84 L489.44,386.25 L490.03,386.67 L490.61,387.08 L491.20,387.49" stroke="#000" stroke-width="3" fill="none" stroke-dasharray="18.5 7.8"/>
<path d="M91.02,46.62 L91.02,46.62 L91.02,46.63 L91.02,46.65 L91.02,46.68 L91.02,46.72 L91.02,46.76 L91.02,46.82 L91.02,46.89 L91.02,46.96 L91.03,47.04 L91.03,47.13 L91.03,47.22 L91.03,47.32 L91.03,47.43 L91.04,47.54 L91.04,47.66 L91.04,47.77 L91.04,47.90 L91.05,48.02 L91.05,48.15 L91.05,48.28 L91.06,48.41 L91.06,48.55 L91.06,48.68 L91.07,48.82 L91.07,48.96 L91.08,49.10 L91.08,49.24 L91.09,49.38 L91.09,49.52 L91.10,49.66 L91.10,49.80 L91.11,49.95 L91.12,50.09 L91.12,50.23 L91.13,50.38 L91.14,50.52 L91.14,50.66 L91.15,50.81 L91.16,50.95 L91.17,51.10 L91.17,51.24 L91.18,51.38 L91.19,51.53 L91.20,51.67 L91.21,51.82 L91.22,51.96 L91.23,52.10 L91.24,52.25 L91.24,52.39 L91.25,52.53 L91.27,52.68 L91.28,52.82 L91.29,52.96 L91.30,53.11 L91.31,53.25 L91.32,53.39 L91.33,53.54 L91.34,53.68 L91.36,53.82 L91.37,53.96 L91.38,54.11 L91.39,54.25 L91.41,54.39 L91.42,54.53 L91.43,54.68 L91.45,54.82 L91.46,54.96 L91.48,55.10 L91.49,55.24 L91.51,55.38 L91.52,55.53 L91.54,55.67 L91.55,55.81 L91.57,55.95 L91.59,56.09 L91.60,56.23 L91.62,56.37 L91.64,56.51 L91.65,56.65 L91.67,56.79 L91.69,56.93 L91.71,57.07 L91.73,57.22 L91.74,57.36 L91.76,57.50 L91.78,57.64 L91.80,57.78 L91.82,57.92 L91.84,58.06 L91.86,58.20 L91.88,58.34 L91.90,58.48 L91.92,58.62 L91.94,58.76 L91.97,58.90 L91.99,59.04 L92.01,59.17 L92.03,59.31 L92.06,59.45 L92.08,59.59 L92.10,59.73 L92.12,59.87 L92.15,60.01 L92.17,60.15 L92.20,60.29 L92.22,60.43 L92.25,60.57 L92.27,60.71 L92.30,60.85 L92.32,60.99 L92.35,61.13 L92.37,61.27 L92.40,61.41 L92.43,61.54 L92.45,61.68 L92.48,61.82 L92.51,61.96 L92.54,62.10 L92.57,62.24 L92.59,62.38 L92.62,62.52 L92.65,62.66 L92.68,62.80 L92.71,62.94 L92.74,63.08 L92.77,63.22 L92.80,63.35 L92.83,63.49 L92.86,63.63 L92.90,63.77 L92.93,63.91 L92.96,64.05 L92.99,64.19 L93.02,64.33 L93.06,64.47 L93.09,64.61 L93.12,64.75 L93.16,64.89 L93.19,65.03 L93.22,65.17 L93.26,65.30 L93.29,65.44 L93.33,65.58 L93.36,65.72 L93.40,65.86 L93.44,66.00 L93.47,66.14 L93.51,66.28 L93.55,66.42 L93.58,66.56 L93.62,66.70 L93.66,66.84 L93.70,66.98 L93.74,67.12 L93.77,67.26 L93.81,67.40 L93.85,67.54 L93.89,67.68 L93.93,67.82 L93.97,67.96 L94.01,68.10 L94.05,68.24 L94.09,68.38 L94.14,68.52 L94.18,68.66 L94.22,68.80 L94.26,68.94 L94.30,69.08 L94.35,69.22 L94.39,69.36 L94.43,69.50 L94.48,69.64 L94.52,69.78 L94.57,69.92 L94.61,70.06 L94.66,70.20 L94.70,70.34 L94.75,70.48 L94.79,70.63 L94.84,70.77 L94.89,70.91 L94.93,71.05 L94.98,71.19 L95.03,71.33 L95.08,71.47 L95.12,71.61 L95.17,71.75 L95.22,71.89 L95.27,72.04 L95.32,72.18 L95.37,72.32 L95.42,72.46 L95.47,72.60 L95.52,72.74 L95.57,72.88 L95.62,73.03 L95.67,73.17 L95.73,73.31 L95.78,73.45 L95.83,73.59 L95.88,73.73 L95.94,73.88 L95.99,74.02 L96.04,74.16 L96.10,74.30 L96.15,74.44 L96.21,74.59 L96.26,74.73 L96.32,74.87 L96.37,75.01 L96.43,75.16 L96.48,75.30 L96.54,75.44 L96.60,75.58 L96.66,75.73 L96.71,75.87 L96.77,76.01 L96.83,76.15 L96.89,76.30 L96.95,76.44 L97.01,76.58 L97.07,76.73 L97.12,76.87 L97.19,77.01 L97.25,77.16 L97.31,77.30 L97.37,77.44 L97.43,77.59 L97.49,77.73 L97.55,77.87 L97.61,78.02 L97.68,78.16 L97.74,78.30 L97.80,78.45 L97.87,78.59 L97.93,78.74 L98.00,78.88 L98.06,79.02 L98.13,79.17 L98.19,79.31 L98.26,79.46 L98.32,79.60 L98.39,79.74 L98.46,79.89 L98.52,80.03 L98.59,80.17 L98.66,80.32 L98.73,80.46 L98.79,80.60 L98.86,80.75 L98.93,80.89 L99.00,81.03 L99.07,81.17 L99.14,81.32 L99.21,81.46 L99.28,81.60 L99.35,81.74 L99.42,81.89 L99.49,82.03 L99.57,82.17 L99.64,82.31 L99.71,82.45 L99.78,82.60 L99.86,82.74 L99.93,82.88 L100.00,83.02 L100.08,83.16 L100.15,83.30 L100.23,83.45 L100.30,83.59 L100.38,83.73 L100.45,83.87 L100.53,84.01 L100.61,84.15 L100.68,84.29 L100.76,84.43 L100.84,84.58 L100.92,84.72 L100.99,84.86 L101.07,85.00 L101.15,85.14 L101.23,85.28 L101.31,85.42 L101.39,85.56 L101.47,85.70 L101.55,85.84 L101.63,85.98 L101.71,86.12 L101.80,86.26 L101.88,86.40 L101.96,86.55 L102.04,86.69 L102.12,86.83 L102.21,86.97 L102.29,87.11 L102.38,87.25 L102.46,87.39 L102.54,87.53 L102.63,87.67 L102.71,87.81 L102.80,87.95 L102.89,88.09 L102.97,88.23 L103.06,88.37 L103.15,88.51 L103.23,88.65 L103.32,88.79 L103.41,88.94 L103.50,89.08 L103.59,89.22 L103.68,89.36 L103.77,89.50 L103.86,89.64 L103.95,89.78 L104.04,89.92 L104.13,90.06 L104.22,90.21 L104.31,90.35 L104.40,90.49 L104.49,90.63 L104.59,90.77 L104.68,90.92 L104.77,91.06 L104.87,91.20 L104.96,91.34 L105.05,91.49 L105.15,91.63 L105.24,91.77 L105.34,91.92 L105.43,92.06 L105.53,92.20 L105.63,92.35 L105.72,92.49 L105.82,92.64 L105.92,92.78 L106.01,92.93 L106.11,93.07 L106.21,93.22 L106.31,93.36 L106.41,93.51 L106.51,93.66 L106.61,93.80 L106.71,93.95 L106.81,94.10 L106.91,94.24 L107.01,94.39 L107.11,94.54 L107.21,94.69 L107.32,94.84 L107.42,94.99 L107.52,95.14 L107.63,95.29 L107.73,95.44 L107.83,95.59 L107.94,95.74 L108.04,95.89 L108.15,96.05 L108.25,96.20 L108.36,96.35 L108.47,96.50 L108.57,96.65 L108.68,96.81 L108.79,96.96 L108.89,97.11 L109.00,97.27 L109.11,97.42 L109.22,97.57 L109.33,97.72 L109.44,97.88 L109.55,98.03 L109.66,98.18 L109.77,98.34 L109.88,98.49 L109.99,98.64 L110.10,98.80 L110.21,98.95 L110.32,99.10 L110.44,99.26 L110.55,99.41 L110.66,99.57 L110.78,99.72 L110.89,99.87 L111.00,100.03 L111.12,100.18 L111.23,100.34 L111.35,100.49 L111.46,100.65 L111.58,100.80 L111.70,100.95 L111.81,101.11 L111.93,101.26 L112.05,101.42 L112.17,101.57 L112.29,101.73 L112.40,101.88 L112.52,102.04 L112.64,102.19 L112.76,102.35 L112.88,102.50 L113.00,102.66 L113.12,102.81 L113.24,102.97 L113.37,103.13 L113.49,103.28 L113.61,103.44 L113.73,103.59 L113.86,103.75 L113.98,103.91 L114.10,104.06 L114.23,104.22 L114.35,104.37 L114.48,104.53 L114.60,104.69 L114.73,104.84 L114.85,105.00 L114.98,105.16 L115.10,105.31 L115.23,105.47 L115.36,105.63 L115.49,105.78 L115.61,105.94 L115.74,106.10 L115.87,106.25 L116.00,106.41 L116.13,106.57 L116.26,106.73 L116.39,106.88 L116.52,107.04 L116.65,107.20 L116.78,107.36 L116.92,107.52 L117.05,107.67 L117.18,107.83 L117.31,107.99 L117.45,108.15 L117.58,108.31 L117.71,108.46 L117.85,108.62 L117.98,108.78 L118.12,108.94 L118.25,109.10 L118.39,109.26 L118.52,109.42 L118.66,109.57 L118.80,109.73 L118.93,109.89 L119.07,110.05 L119.21,110.21 L119.35,110.37 L119.49,110.53 L119.63,110.69 L119.77,110.85 L119.91,111.01 L120.05,111.17 L120.19,111.33 L120.33,111.49 L120.47,111.65 L120.61,111.81 L120.75,111.97 L120.89,112.13 L121.04,112.29 L121.18,112.45 L121.32,112.61 L121.47,112.77 L121.61,112.93 L121.76,113.09 L121.90,113.25 L122.05,113.41 L122.19,113.58 L122.34,113.74 L122.49,113.90 L122.63,114.06 L122.78,114.22 L122.93,114.38 L123.07,114.54 L123.22,114.71 L123.37,114.87 L123.52,115.03 L123.67,115.19 L123.82,115.35 L123.97,115.52 L124.12,115.68 L124.27,115.84 L124.42,116.00 L124.58,116.16 L124.73,116.33 L124.88,116.49 L125.03,116.65 L125.19,116.82 L125.34,116.98 L125.49,117.14 L125.65,117.31 L125.80,117.47 L125.96,117.63 L126.11,117.80 L126.27,117.96 L126.43,118.12 L126.58,118.29 L126.74,118.45 L126.90,118.61 L127.05,118.78 L127.21,118.94 L127.37,119.11 L127.53,119.27 L127.69,119.44 L127.85,119.60 L128.01,119.76 L128.17,119.93 L128.33,120.09 L128.49,120.26 L128.65,120.42 L128.81,120.59 L128.98,120.75 L129.14,120.92 L129.30,121.09 L129.47,121.25 L129.63,121.42 L129.79,121.58 L129.96,121.75 L130.12,121.91 L130.29,122.08 L130.45,122.25 L130.62,122.41 L130.79,122.58 L130.95,122.75 L131.12,122.91 L131.29,123.08 L131.46,123.25 L131.62,123.41 L131.79,123.58 L131.96,123.75 L132.13,123.91 L132.30,124.08 L132.47,124.25 L132.64,124.42 L132.81,124.58 L132.98,124.75 L133.16,124.92 L133.33,125.09 L133.50,125.26 L133.67,125.42 L133.85,125.59 L134.02,125.76 L134.20,125.93 L134.37,126.10 L134.54,126.27 L134.72,126.43 L134.90,126.60 L135.07,126.77 L135.25,126.94 L135.42,127.11 L135.60,127.28 L135.78,127.45 L135.96,127.62 L136.14,127.79 L136.31,127.96 L136.49,128.13 L136.67,128.30 L136.85,128.47 L137.03,128.64 L137.21,128.81 L137.39,128.98 L137.58,129.15 L137.76,129.32 L137.94,129.49 L138.12,129.66 L138.31,129.84 L138.49,130.01 L138.67,130.18 L138.86,130.35 L139.04,130.52 L139.23,130.69 L139.41,130.87 L139.60,131.04 L139.78,131.21 L139.97,131.38 L140.16,131.55 L140.34,131.73 L140.53,131.90 L140.72,132.07 L140.91,132.24 L141.10,132.42 L141.29,132.59 L141.48,132.76 L141.67,132.94 L141.86,133.11 L142.05,133.29 L142.24,133.46 L142.43,133.63 L142.62,133.81 L142.81,133.98 L143.01,134.16 L143.20,134.33 L143.39,134.51 L143.59,134.68 L143.78,134.86 L143.97,135.03 L144.17,135.21 L144.37,135.38 L144.56,135.56 L144.76,135.73 L144.95,135.91 L145.15,136.09 L145.35,136.26 L145.55,136.44 L145.74,136.61 L145.94,136.79 L146.14,136.97 L146.34,137.15 L146.54,137.32 L146.74,137.50 L146.94,137.68 L147.14,137.85 L147.34,138.03 L147.55,138.21 L147.75,138.39 L147.95,138.57 L148.15,138.75 L148.36,138.92 L148.56,139.10 L148.76,139.28 L148.97,139.46 L149.17,139.64 L149.38,139.82 L149.58,140.00 L149.79,140.18 L150.00,140.36 L150.20,140.54 L150.41,140.72 L150.62,140.90 L150.83,141.08 L151.03,141.26 L151.24,141.44 L151.45,141.62 L151.66,141.81 L151.87,141.99 L152.08,142.17 L152.29,142.35 L152.50,142.54 L152.72,142.72 L152.93,142.90 L153.14,143.09 L153.35,143.27 L153.57,143.46 L153.78,143.64 L153.99,143.82 L154.21,144.01 L154.42,144.19 L154.64,144.38 L154.85,144.57 L155.07,144.75 L155.28,144.94 L155.50,145.12 L155.72,145.31 L155.94,145.50 L156.15,145.69 L156.37,145.87 L156.59,146.06 L156.81,146.25 L157.03,146.44 L157.25,146.63 L157.47,146.82 L157.69,147.00 L157.91,147.19 L158.13,147.38 L158.35,147.57 L158.58,147.76 L158.80,147.95 L159.02,148.14 L159.25,148.33 L159.47,148.53 L159.69,148.72 L159.92,148.91 L160.14,149.10 L160.37,149.29 L160.60,149.49 L160.82,149.68 L161.05,149.87 L161.28,150.06 L161.50,150.26 L161.73,150.45 L161.96,150.64 L162.19,150.84 L162.42,151.03 L162.65,151.23 L162.88,151.42 L163.11,151.62 L163.34,151.81 L163.57,152.01 L163.80,152.20 L164.03,152.40 L164.26,152.60 L164.50,152.79 L164.73,152.99 L164.96,153.19 L165.20,153.38 L165.43,153.58 L165.67,153.78 L165.90,153.98 L166.14,154.17 L166.37,154.37 L166.61,154.57 L166.85,154.77 L167.08,154.97 L167.32,155.17 L167.56,155.37 L167.80,155.57 L168.04,155.77 L168.28,155.97 L168.52,156.17 L168.76,156.37 L169.00,156.57 L169.24,156.77 L169.48,156.97 L169.72,157.17 L169.96,157.37 L170.20,157.58 L170.45,157.78 L170.69,157.98 L170.93,158.18 L171.18,158.39 L171.42,158.59 L171.67,158.79 L171.91,159.00 L172.16,159.20 L172.40,159.40 L172.65,159.61 L172.90,159.81 L173.14,160.02 L173.39,160.22 L173.64,160.42 L173.89,160.63 L174.14,160.83 L174.39,161.04 L174.64,161.25 L174.89,161.45 L175.14,161.66 L175.39,161.86 L175.64,162.07 L175.89,162.28 L176.14,162.48 L176.40,162.69 L176.65,162.90 L176.90,163.10 L177.16,163.31 L177.41,163.52 L177.67,163.73 L177.92,163.93 L178.18,164.14 L178.43,164.35 L178.69,164.56 L178.95,164.77 L179.20,164.98 L179.46,165.19 L179.72,165.39 L179.98,165.60 L180.23,165.81 L180.49,166.02 L180.75,166.23 L181.01,166.44 L181.27,166.65 L181.53,166.86 L181.80,167.07 L182.06,167.28 L182.32,167.49 L182.58,167.70 L182.84,167.92 L183.11,168.13 L183.37,168.34 L183.64,168.55 L183.90,168.76 L184.16,168.97 L184.43,169.18 L184.70,169.40 L184.96,169.61 L185.23,169.82 L185.50,170.03 L185.76,170.24 L186.03,170.46 L186.30,170.67 L186.57,170.88 L186.84,171.09 L187.11,171.31 L187.38,171.52 L187.65,171.73 L187.92,171.94 L188.19,172.16 L188.46,172.37 L188.73,172.58 L189.00,172.80 L189.28,173.01 L189.55,173.22 L189.82,173.44 L190.10,173.65 L190.37,173.87 L190.65,174.08 L190.92,174.29 L191.20,174.51 L191.47,174.72 L191.75,174.94 L192.03,175.15 L192.30,175.37 L192.58,175.59 L192.86,175.80 L193.14,176.02 L193.42,176.23 L193.70,176.45 L193.98,176.67 L194.26,176.89 L194.54,177.10 L194.82,177.32 L195.10,177.54 L195.38,177.76 L195.66,177.98 L195.95,178.20 L196.23,178.41 L196.51,178.63 L196.80,178.85 L197.08,179.07 L197.37,179.29 L197.65,179.51 L197.94,179.73 L198.22,179.95 L198.51,180.18 L198.80,180.40 L199.08,180.62 L199.37,180.84 L199.66,181.06 L199.95,181.28 L200.24,181.51 L200.53,181.73 L200.82,181.95 L201.11,182.18 L201.40,182.40 L201.69,182.62 L201.98,182.85 L202.27,183.07 L202.56,183.30 L202.86,183.52 L203.15,183.75 L203.44,183.97 L203.74,184.20 L204.03,184.42 L204.33,184.65 L204.62,184.88 L204.92,185.10 L205.21,185.33 L205.51,185.56 L205.81,185.79 L206.10,186.01 L206.40,186.24 L206.70,186.47 L207.00,186.70 L207.30,186.93 L207.60,187.16 L207.90,187.38 L208.20,187.61 L208.50,187.84 L208.80,188.07 L209.10,188.30 L209.40,188.54 L209.70,188.77 L210.01,189.00 L210.31,189.23 L210.61,189.46 L210.92,189.69 L211.22,189.92 L211.53,190.16 L211.83,190.39 L212.14,190.62 L212.44,190.86 L212.75,191.09 L213.06,191.32 L213.36,191.56 L213.67,191.79 L213.98,192.03 L214.29,192.26 L214.60,192.50 L214.91,192.73 L215.22,192.97 L215.53,193.20 L215.84,193.44 L216.15,193.68 L216.46,193.91 L216.77,194.15 L217.09,194.39 L217.40,194.63 L217.71,194.86 L218.03,195.10 L218.34,195.34 L218.65,195.58 L218.97,195.82 L219.28,196.06 L219.60,196.30 L219.92,196.54 L220.23,196.78 L220.55,197.02 L220.87,197.26 L221.19,197.50 L221.50,197.74 L221.82,197.98 L222.14,198.22 L222.46,198.47 L222.78,198.71 L223.10,198.95 L223.42,199.19 L223.75,199.44 L224.07,199.68 L224.39,199.92 L224.71,200.17 L225.04,200.41 L225.36,200.66 L225.68,200.90 L226.01,201.15 L226.33,201.39 L226.66,201.64 L226.98,201.88 L227.31,202.13 L227.63,202.38 L227.96,202.62 L228.29,202.87 L228.62,203.12 L228.95,203.37 L229.27,203.61 L229.60,203.86 L229.93,204.11 L230.26,204.36 L230.59,204.61 L230.92,204.86 L231.25,205.11 L231.59,205.36 L231.92,205.61 L232.25,205.86 L232.58,206.11 L232.92,206.36 L233.25,206.61 L233.58,206.86 L233.92,207.11 L234.25,207.37 L234.59,207.62 L234.93,207.87 L235.26,208.12 L235.60,208.38 L235.94,208.63 L236.27,208.89 L236.61,209.14 L236.95,209.39 L237.29,209.65 L237.63,209.90 L237.97,210.16 L238.31,210.42 L238.65,210.67 L238.99,210.93 L239.33,211.18 L239.67,211.44 L240.01,211.70 L240.36,211.96 L240.70,212.21 L241.04,212.47 L241.39,212.73 L241.73,212.99 L242.08,213.25 L242.42,213.51 L242.77,213.76 L243.12,214.02 L243.46,214.28 L243.81,214.54 L244.16,214.81 L244.50,215.07 L244.85,215.33 L245.20,215.59 L245.55,215.85 L245.90,216.11 L246.25,216.37 L246.60,216.64 L246.95,216.90 L247.30,217.16 L247.65,217.43 L248.01,217.69 L248.36,217.95 L248.71,218.22 L249.07,218.48 L249.42,218.75 L249.77,219.01 L250.13,219.28 L250.48,219.55 L250.84,219.81 L251.20,220.08 L251.55,220.34 L251.91,220.61 L252.27,220.88 L252.62,221.15 L252.98,221.41 L253.34,221.68 L253.70,221.95 L254.06,222.22 L254.42,222.49 L254.78,222.76 L255.14,223.03 L255.50,223.30 L255.86,223.57 L256.23,223.84 L256.59,224.11 L256.95,224.38 L257.32,224.65 L257.68,224.92 L258.04,225.19 L258.41,225.47 L258.77,225.74 L259.14,226.01 L259.51,226.29 L259.87,226.56 L260.24,226.83 L260.61,227.11 L260.97,227.38 L261.34,227.66 L261.71,227.93 L262.08,228.21 L262.45,228.48 L262.82,228.76 L263.19,229.03 L263.56,229.31 L263.93,229.59 L264.30,229.86 L264.68,230.14 L265.05,230.42 L265.42,230.70 L265.79,230.97 L266.17,231.25 L266.54,231.53 L266.92,231.81 L267.29,232.09 L267.67,232.37 L268.04,232.65 L268.42,232.93 L268.80,233.21 L269.18,233.49 L269.55,233.77 L269.93,234.05 L270.31,234.34 L270.69,234.62 L271.07,234.90 L271.45,235.18 L271.83,235.47 L272.21,235.75 L272.59,236.03 L272.97,236.32 L273.36,236.60 L273.74,236.88 L274.12,237.17 L274.50,237.45 L274.89,237.74 L275.27,238.03 L275.66,238.31 L276.04,238.60 L276.43,238.88 L276.81,239.17 L277.20,239.46 L277.59,239.75 L277.98,240.03 L278.36,240.32 L278.75,240.61 L279.14,240.90 L279.53,241.19 L279.92,241.48 L280.31,241.76 L280.70,242.05 L281.09,242.34 L281.48,242.63 L281.87,242.93 L282.27,243.22 L282.66,243.51 L283.05,243.80 L283.45,244.09 L283.84,244.38 L284.23,244.68 L284.63,244.97 L285.02,245.26 L285.42,245.55 L285.82,245.85 L286.21,246.14 L286.61,246.44 L287.01,246.73 L287.41,247.02 L287.80,247.32 L288.20,247.61 L288.60,247.91 L289.00,248.21 L289.40,248.50 L289.80,248.80 L290.20,249.10 L290.61,249.39 L291.01,249.69 L291.41,249.99 L291.81,250.29 L292.22,250.58 L292.62,250.88 L293.02,251.18 L293.43,251.48 L293.83,251.78 L294.24,252.08 L294.65,252.38 L295.05,252.68 L295.46,252.98 L295.87,253.28 L296.27,253.58 L296.68,253.88 L297.09,254.19 L297.50,254.49 L297.91,254.79 L298.32,255.09 L298.73,255.40 L299.14,255.70 L299.55,256.00 L299.96,256.31 L300.37,256.61 L300.79,256.91 L301.20,257.22 L301.61,257.52 L302.03,257.83 L302.44,258.13 L302.86,258.44 L303.27,258.75 L303.69,259.05 L304.10,259.36 L304.52,259.67 L304.94,259.97 L305.35,260.28 L305.77,260.59 L306.19,260.90 L306.61,261.21 L307.03,261.51 L307.45,261.82 L307.87,262.13 L308.29,262.44 L308.71,262.75 L309.13,263.06 L309.55,263.37 L309.98,263.68 L310.40,263.99 L310.82,264.31 L311.25,264.62 L311.67,264.93 L312.09,265.24 L312.52,265.55 L312.94,265.87 L313.37,266.18 L313.80,266.49 L314.22,266.81 L314.65,267.12 L315.08,267.43 L315.51,267.75 L315.94,268.06 L316.36,268.38 L316.79,268.69 L317.22,269.01 L317.65,269.32 L318.08,269.64 L318.52,269.96 L318.95,270.27 L319.38,270.59 L319.81,270.91 L320.25,271.22 L320.68,271.54 L321.11,271.86 L321.55,272.18 L321.98,272.50 L322.42,272.82 L322.85,273.13 L323.29,273.45 L323.73,273.77 L324.16,274.09 L324.60,274.41 L325.04,274.73 L325.48,275.06 L325.92,275.38 L326.35,275.70 L326.79,276.02 L327.23,276.34 L327.67,276.66 L328.12,276.99 L328.56,277.31 L329.00,277.63 L329.44,277.95 L329.88,278.28 L330.33,278.60 L330.77,278.93 L331.22,279.25 L331.66,279.57 L332.11,279.90 L332.55,280.23 L333.00,280.55 L333.44,280.88 L333.89,281.20 L334.34,281.53 L334.79,281.85 L335.23,282.18 L335.68,282.51 L336.13,282.84 L336.58,283.16 L337.03,283.49 L337.48,283.82 L337.93,284.15 L338.38,284.48 L338.84,284.81 L339.29,285.13 L339.74,285.46 L340.19,285.79 L340.65,286.12 L341.10,286.45 L341.56,286.78 L342.01,287.12 L342.47,287.45 L342.92,287.78 L343.38,288.11 L343.84,288.44 L344.29,288.77 L344.75,289.11 L345.21,289.44 L345.67,289.77 L346.13,290.10 L346.59,290.44 L347.05,290.77 L347.51,291.11 L347.97,291.44 L348.43,291.77 L348.89,292.11 L349.35,292.44 L349.82,292.78 L350.28,293.11 L350.74,293.45 L351.21,293.79 L351.67,294.12 L352.14,294.46 L352.60,294.79 L353.07,295.13 L353.53,295.47 L354.00,295.81 L354.47,296.14 L354.93,296.48 L355.40,296.82 L355.87,297.16 L356.34,297.50 L356.81,297.84 L357.28,298.18 L357.75,298.52 L358.22,298.86 L358.69,299.20 L359.16,299.54 L359.64,299.88 L360.11,300.22 L360.58,300.56 L361.06,300.90 L361.53,301.24 L362.00,301.58 L362.48,301.92 L362.95,302.27 L363.43,302.61 L363.91,302.95 L364.38,303.29 L364.86,303.64 L365.34,303.98 L365.82,304.32 L366.29,304.67 L366.77,305.01 L367.25,305.36 L367.73,305.70 L368.21,306.05 L368.69,306.39 L369.17,306.74 L369.66,307.08 L370.14,307.43 L370.62,307.77 L371.10,308.12 L371.59,308.47 L372.07,308.81 L372.56,309.16 L373.04,309.51 L373.53,309.85 L374.01,310.20 L374.50,310.55 L374.98,310.90 L375.47,311.25 L375.96,311.59 L376.45,311.94 L376.94,312.29 L377.43,312.64 L377.91,312.99 L378.40,313.34 L378.89,313.69 L379.39,314.04 L379.88,314.39 L380.37,314.74 L380.86,315.09 L381.35,315.44 L381.85,315.79 L382.34,316.15 L382.83,316.50 L383.33,316.85 L383.82,317.20 L384.32,317.55 L384.81,317.91 L385.31,318.26 L385.81,318.61 L386.30,318.97 L386.80,319.32 L387.30,319.67 L387.80,320.03 L388.30,320.38 L388.80,320.74 L389.30,321.09 L389.80,321.44 L390.30,321.80 L390.80,322.15 L391.30,322.51 L391.80,322.87 L392.31,323.22 L392.81,323.58 L393.31,323.93 L393.82,324.29 L394.32,324.65 L394.83,325.00 L395.33,325.36 L395.84,325.72 L396.34,326.07 L396.85,326.43 L397.36,326.79 L397.87,327.15 L398.37,327.51 L398.88,327.86 L399.39,328.22 L399.90,328.58 L400.41,328.94 L400.92,329.30 L401.43,329.66 L401.94,330.02 L402.46,330.38 L402.97,330.74 L403.48,331.10 L403.99,331.46 L404.51,331.82 L405.02,332.19 L405.54,332.55 L406.05,332.91 L406.57,333.27 L407.08,333.64 L407.60,334.00 L408.12,334.36 L408.63,334.73 L409.15,335.09 L409.67,335.46 L410.19,335.82 L410.71,336.19 L411.23,336.55 L411.75,336.92 L412.27,337.28 L412.79,337.65 L413.31,338.02 L413.83,338.39 L414.36,338.75 L414.88,339.12 L415.40,339.49 L415.93,339.86 L416.45,340.23 L416.97,340.60 L417.50,340.97 L418.03,341.34 L418.55,341.71 L419.08,342.08 L419.61,342.45 L420.13,342.82 L420.66,343.19 L421.19,343.56 L421.72,343.93 L422.25,344.31 L422.78,344.68 L423.31,345.05 L423.84,345.42 L424.37,345.80 L424.90,346.17 L425.43,346.55 L425.97,346.92 L426.50,347.30 L427.03,347.67 L427.57,348.05 L428.10,348.42 L428.64,348.80 L429.17,349.18 L429.71,349.55 L430.24,349.93 L430.78,350.31 L431.32,350.69 L431.85,351.06 L432.39,351.44 L432.93,351.82 L433.47,352.20 L434.01,352.58 L434.55,352.96 L435.09,353.34 L435.63,353.72 L436.17,354.10 L436.71,354.48 L437.26,354.86 L437.80,355.25 L438.34,355.63 L438.89,356.01 L439.43,356.39 L439.98,356.78 L440.52,357.16 L441.07,357.54 L441.61,357.93 L442.16,358.31 L442.71,358.70 L443.25,359.08 L443.80,359.47 L444.35,359.85 L444.90,360.24 L445.45,360.62 L446.00,361.01 L446.55,361.40 L447.10,361.78 L447.65,362.17 L448.20,362.56 L448.75,362.95 L449.31,363.34 L449.86,363.73 L450.41,364.12 L450.97,364.50 L451.52,364.89 L452.07,365.28 L452.63,365.68 L453.19,366.07 L453.74,366.46 L454.30,366.85 L454.86,367.24 L455.41,367.63 L455.97,368.02 L456.53,368.42 L457.09,368.81 L457.65,369.20 L458.21,369.60 L458.77,369.99 L459.33,370.39 L459.89,370.78 L460.45,371.18 L461.02,371.57 L461.58,371.97 L462.14,372.36 L462.71,372.76 L463.27,373.16 L463.83,373.55 L464.40,373.95 L464.97,374.35 L465.53,374.75 L466.10,375.14 L466.66,375.54 L467.23,375.94 L467.80,376.34 L468.37,376.74 L468.94,377.14 L469.51,377.54 L470.08,377.94 L470.65,378.34 L471.22,378.74 L471.79,379.15 L472.36,379.55 L472.93,379.95 L473.50,380.35 L474.08,380.75 L474.65,381.16 L475.23,381.56 L475.80,381.97 L476.37,382.37 L476.95,382.77 L477.53,383.18 L478.10,383.58 L478.68,383.99 L479.26,384.40 L479.83,384.80 L480.41,385.21 L480.99,385.61 L481.57,386.02 L482.15,386.43 L482.73,386.84 L483.31,387.25 L483.89,387.65 L484.47,388.06 L485.05,388.47 L485.64,388.88 L486.22,389.29 L486.80,389.70 L487.39,390.11 L487.97,390.52 L488.56,390.93 L489.14,391.34 L489.73,391.76 L490.31,392.17 L490.90,392.58" stroke="#ffa500" stroke-width="1.7" fill="none" stroke-dasharray="0 6.54 1.70 4.80 10.29 1.89 1.70 5.38 11.29 5.59 1.70 5.24 11.67 7.09 1.70 5.03 12.46 4.79 1.70 4.44 13.07 5.09 1.70 4.28 12.54 4.86 1.70 5.09 7.69 4.58 10.25 3.95 1.70 4.82 10.32 4.17 1.70 5.05 9.27 4.78 1.70 5.59 9.25 4.77 1.70 5.58 9.23 4.76 1.70 5.57 9.22 4.75 1.70 5.56 9.20 4.74 1.70 5.55 9.18 4.73 1.70 5.53 9.17 4.72 1.70 5.52 9.14 4.70 1.70 5.50 9.12 4.69 1.70 5.48 9.09 4.67 1.70 5.46 9.06 4.65 1.70 5.45 9.05 4.65 1.70 5.45 9.05 4.65 1.70 5.45 9.05 4.65 1.70 5.45 9.05 4.65 1.70 5.45 9.05 4.65 1.70 9999"/>
</g>
<path d="M91.00,443.9 v-11 M91.00,7.0 v11 M149.85,443.9 v-5.5 M149.85,7.0 v5.5 M184.28,443.9 v-5.5 M184.28,7.0 v5.5 M208.70,443.9 v-5.5 M208.70,7.0 v5.5 M227.65,443.9 v-5.5 M227.65,7.0 v5.5 M243.13,443.9 v-5.5 M243.13,7.0 v5.5 M256.22,443.9 v-5.5 M256.22,7.0 v5.5 M267.55,443.9 v-5.5 M267.55,7.0 v5.5 M277.55,443.9 v-5.5 M277.55,7.0 v5.5 M286.50,443.9 v-11 M286.50,7.0 v11 M345.35,443.9 v-5.5 M345.35,7.0 v5.5 M379.78,443.9 v-5.5 M379.78,7.0 v5.5 M404.20,443.9 v-5.5 M404.20,7.0 v5.5 M423.15,443.9 v-5.5 M423.15,7.0 v5.5 M438.63,443.9 v-5.5 M438.63,7.0 v5.5 M451.72,443.9 v-5.5 M451.72,7.0 v5.5 M463.05,443.9 v-5.5 M463.05,7.0 v5.5 M473.05,443.9 v-5.5 M473.05,7.0 v5.5 M482.00,443.9 v-11 M482.00,7.0 v11 M82.2,433.87 h5.5 M516.5,433.87 h-5.5 M82.2,424.50 h11 M516.5,424.50 h-11 M82.2,362.86 h5.5 M516.5,362.86 h-5.5 M82.2,326.81 h5.5 M516.5,326.81 h-5.5 M82.2,301.23 h5.5 M516.5,301.23 h-5.5 M82.2,281.39 h5.5 M516.5,281.39 h-5.5 M82.2,265.17 h5.5 M516.5,265.17 h-5.5 M82.2,251.47 h5.5 M516.5,251.47 h-5.5 M82.2,239.59 h5.5 M516.5,239.59 h-5.5 M82.2,229.12 h5.5 M516.5,229.12 h-5.5 M82.2,219.75 h11 M516.5,219.75 h-11 M82.2,158.11 h5.5 M516.5,158.11 h-5.5 M82.2,122.06 h5.5 M516.5,122.06 h-5.5 M82.2,96.48 h5.5 M516.5,96.48 h-5.5 M82.2,76.64 h5.5 M516.5,76.64 h-5.5 M82.2,60.42 h5.5 M516.5,60.42 h-5.5 M82.2,46.72 h5.5 M516.5,46.72 h-5.5 M82.2,34.84 h5.5 M516.5,34.84 h-5.5 M82.2,24.37 h5.5 M516.5,24.37 h-5.5 M82.2,15.00 h11 M516.5,15.00 h-11" stroke="#000" stroke-width="1.3" fill="none"/>
<rect x="82.2" y="7.0" width="434.3" height="436.9" fill="none" stroke="#000" stroke-width="2"/>
<!-- legend -->
<rect x="342" y="64" width="138.5" height="150.2" fill="#fff" stroke="#000" stroke-width="1.6"/>
<g stroke-width="1.5" fill="none">
<path d="M349,76.5 H395" stroke="#ff00ff"/>
<path d="M349,96 H395" stroke="#00ffff"/>
<path d="M349,115.5 H395" stroke="#0000ff"/>
<path d="M349,135 H395" stroke="#008b00"/>
<path d="M349,154.5 H395" stroke="#ff0000"/>
<path d="M348.8,177.7 H395" stroke="#000" stroke-width="3" stroke-dasharray="18.5 7.8"/>
<path d="M348.8,201.3 H395" stroke="#ffa500" stroke-width="1.7" stroke-dasharray="1.7 5 9.3 5"/>
</g>
<g opacity="0.999">
<!-- x tick labels -->
<text x="74.4" y="477" class="tl">10<tspan class="sup" x="98.3" y="462">0</tspan></text>
<text x="271.5" y="477" class="tl">10<tspan class="sup" x="295.6" y="462">1</tspan></text>
<text x="466.4" y="477" class="tl">10<tspan class="sup" x="490.9" y="462">2</tspan></text>
<!-- y tick labels -->
<text x="43.2" y="28" class="tl">10<tspan class="sup" x="68.2" y="13">0</tspan></text>
<text x="39" y="233" class="tl">10<tspan class="sup" x="63" y="218">-1</tspan></text>
<text x="38" y="438" class="tl">10<tspan class="sup" x="62.2" y="423">-2</tspan></text>
<!-- axis labels -->
<text x="298.4" y="493" font-size="24" class="it">y</text>
<g transform="translate(18.1,250) rotate(-90)" style="font-size:24px">
<text transform="translate(2.6,0) skewX(-12)" x="0" y="0" class="it" font-size="24">f</text>
<text x="12.6" y="9.3" font-size="18.5">χ</text>
<text x="21.7" y="0" font-size="24">(</text>
<text x="30.4" y="0" font-size="24" class="it">y</text>
<text x="40.4" y="0" font-size="24">)</text>
</g>
<text x="107.7" y="401" font-size="29">(a)</text>
<text x="406.6" y="83" class="lg it">s <tspan dx="0.3">=</tspan> 250</text>
<text x="406.6" y="103" class="lg it">s <tspan dx="0.3">=</tspan> 500</text>
<text x="406.6" y="122" class="lg"><tspan class="it">s <tspan dx="0.3">=</tspan></tspan><tspan x="435.7">1000</tspan></text>
<text x="406.6" y="142" class="lg"><tspan class="it">s <tspan dx="0.3">=</tspan></tspan><tspan x="435.9">2000</tspan></text>
<text x="406.6" y="161" class="lg"><tspan class="it">s <tspan dx="0.3">=</tspan></tspan><tspan x="435.8">4000</tspan></text>
<text x="406.6" y="188" class="lg">L<tspan font-size="14.5" dy="-11.3" dx="-0.3">2</tspan><tspan dy="11.3" dx="-0.4">LSI</tspan></text>
<text x="406.6" y="207" class="lg">LSI</text>
</g>
</svg>
</body></html>
